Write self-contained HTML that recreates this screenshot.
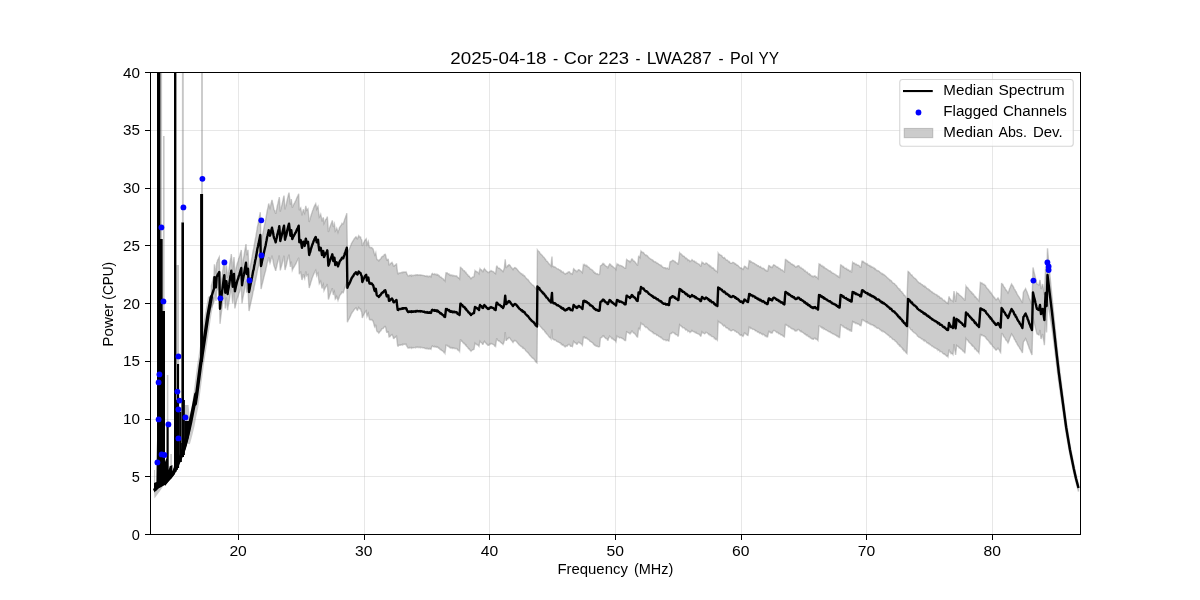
<!DOCTYPE html>
<html><head><meta charset="utf-8"><title>spectrum</title>
<style>html,body{margin:0;padding:0;background:#fff;}body{width:1200px;height:600px;overflow:hidden;font-family:"Liberation Sans",sans-serif;}svg{display:block;will-change:transform;}text{font-family:"Liberation Sans",sans-serif;fill:#000;}</style>
</head><body>
<svg width="1200" height="600" viewBox="0 0 1200 600">
<rect x="0" y="0" width="1200" height="600" fill="#ffffff"/>
<defs><clipPath id="ax"><rect x="150" y="72" width="930" height="462"/></clipPath></defs>
<g stroke="#b0b0b0" stroke-opacity="0.3" stroke-width="1" shape-rendering="crispEdges"><line x1="238.5" y1="72" x2="238.5" y2="534"/><line x1="364.5" y1="72" x2="364.5" y2="534"/><line x1="489.5" y1="72" x2="489.5" y2="534"/><line x1="615.5" y1="72" x2="615.5" y2="534"/><line x1="741.5" y1="72" x2="741.5" y2="534"/><line x1="866.5" y1="72" x2="866.5" y2="534"/><line x1="992.5" y1="72" x2="992.5" y2="534"/><line x1="150" y1="534.5" x2="1080" y2="534.5"/><line x1="150" y1="476.5" x2="1080" y2="476.5"/><line x1="150" y1="419.5" x2="1080" y2="419.5"/><line x1="150" y1="361.5" x2="1080" y2="361.5"/><line x1="150" y1="303.5" x2="1080" y2="303.5"/><line x1="150" y1="245.5" x2="1080" y2="245.5"/><line x1="150" y1="188.5" x2="1080" y2="188.5"/><line x1="150" y1="130.5" x2="1080" y2="130.5"/><line x1="150" y1="72.5" x2="1080" y2="72.5"/></g>
<g clip-path="url(#ax)">
<polygon points="211.3,285.9 214.0,275.8 214.4,264.3 214.9,267.2 215.5,270.1 216.0,273.6 216.7,262.7 217.2,261.7 217.7,259.9 218.3,259.2 218.8,257.9 219.3,257.0 220.0,293.6 220.5,288.8 221.0,285.0 221.5,280.7 222.1,276.0 222.6,272.2 223.2,267.6 223.7,263.4 224.3,259.6 224.8,268.2 225.3,276.9 225.9,271.4 226.4,265.3 227.0,271.2 227.6,277.9 228.1,274.2 228.7,271.2 229.2,268.1 229.7,264.3 230.2,260.8 230.8,257.9 231.3,254.1 232.0,261.5 232.7,269.9 233.3,263.8 234.0,257.0 234.9,274.2 235.5,271.2 236.1,268.3 236.7,265.9 237.2,263.8 237.7,262.2 238.2,261.0 238.7,258.5 239.3,257.2 239.8,255.5 240.3,253.4 240.8,251.8 241.3,250.0 242.0,267.2 242.5,263.9 243.0,261.0 243.5,258.3 244.0,255.8 244.5,252.7 245.0,249.7 245.5,247.1 246.0,244.1 246.7,255.3 247.3,252.5 248.0,249.8 248.5,261.2 249.0,273.0 249.5,270.5 250.0,267.7 250.6,264.5 251.1,262.1 251.6,259.3 252.1,256.9 252.6,254.0 253.1,250.8 253.7,248.8 254.2,245.2 254.7,242.8 255.2,239.6 255.8,236.9 256.4,233.2 256.9,230.5 257.4,226.9 258.0,224.3 258.6,221.5 259.1,218.5 259.7,215.3 260.3,212.2 261.0,243.0 261.5,240.8 262.0,237.7 262.5,235.6 263.0,233.0 263.5,230.4 264.0,227.7 264.5,225.2 265.0,222.9 265.6,220.2 266.1,217.0 266.6,214.5 267.1,211.2 267.6,209.1 268.2,206.3 268.7,203.5 269.4,206.3 270.0,208.2 270.5,206.4 271.0,203.8 271.5,201.8 272.0,199.8 272.5,202.4 273.0,204.2 273.5,207.0 274.0,209.5 274.6,210.6 275.1,211.9 275.7,213.8 276.2,210.9 276.7,209.3 277.2,206.2 277.8,204.0 278.3,201.7 278.8,199.8 279.3,197.1 279.8,203.9 280.3,211.6 280.8,209.3 281.4,207.1 281.9,205.1 282.4,202.8 282.9,200.6 283.5,197.7 284.0,195.6 284.5,202.4 285.0,209.4 285.5,207.2 286.0,205.6 286.5,203.6 287.0,200.7 287.5,198.7 288.0,196.6 288.5,194.5 289.0,192.7 289.7,198.6 290.4,204.6 291.3,199.1 291.8,203.5 292.3,207.7 292.8,206.4 293.3,205.1 293.8,204.4 294.3,203.3 294.8,202.5 295.3,201.4 295.9,200.5 296.4,199.0 297.0,197.6 297.6,196.4 298.1,195.2 298.7,193.7 299.3,210.3 300.0,208.6 300.7,207.8 301.4,212.0 302.0,215.4 302.6,212.6 303.3,209.3 304.0,211.7 304.7,213.3 305.2,209.9 305.8,205.9 306.7,210.2 307.4,209.4 308.0,208.8 308.6,215.3 309.2,222.0 309.7,220.0 310.2,218.9 310.7,216.7 311.2,215.0 311.7,213.5 312.2,211.9 312.7,210.6 313.2,209.3 313.7,207.8 314.2,206.6 314.7,205.7 315.2,204.5 315.7,203.7 316.2,206.2 316.7,209.0 317.4,207.2 318.0,206.3 318.6,212.0 319.3,216.9 320.0,215.7 320.7,214.2 321.4,217.5 322.0,221.5 322.6,219.2 323.3,217.4 324.0,223.4 324.6,222.1 325.1,221.0 325.6,219.6 326.2,219.2 326.8,218.2 327.3,216.6 327.9,224.2 328.4,231.9 329.0,230.3 329.5,228.2 330.1,226.6 330.6,225.2 331.2,223.4 331.7,222.4 332.3,220.4 332.8,223.4 333.3,227.0 333.9,224.9 334.4,223.7 335.3,231.0 336.0,230.0 336.7,228.2 337.4,230.2 338.0,232.2 338.5,230.5 339.0,229.5 339.5,227.6 340.0,226.8 340.5,226.0 341.0,225.6 341.5,224.6 342.0,223.4 342.6,223.9 343.3,223.9 343.8,222.2 344.3,220.7 344.8,219.0 345.3,218.1 345.8,216.3 346.3,215.0 346.8,213.2 347.4,253.2 347.9,251.7 348.4,250.4 348.9,249.8 349.4,248.7 350.0,247.3 350.5,246.1 351.0,244.8 351.5,243.3 352.0,242.8 352.5,241.6 353.0,241.1 353.5,240.2 354.0,239.2 354.5,238.5 355.0,238.0 355.5,237.2 356.0,236.8 356.5,237.6 357.0,238.6 357.5,238.8 358.1,237.2 358.7,235.7 359.3,236.5 359.9,237.0 360.5,237.0 361.1,239.0 361.7,240.0 362.3,246.0 362.8,244.7 363.3,243.5 363.8,242.3 364.3,241.5 364.9,240.3 365.6,239.4 366.2,238.8 367.0,244.5 367.6,243.1 368.3,241.5 368.9,244.9 369.5,247.5 370.1,247.8 370.6,247.4 371.2,247.6 371.8,247.5 372.3,248.5 372.8,248.6 373.3,249.8 373.8,251.7 374.3,253.6 374.8,255.0 375.3,254.1 375.8,252.8 376.7,258.8 377.2,259.6 377.8,259.8 378.3,260.1 378.8,260.9 379.3,260.5 379.9,259.3 380.4,259.0 381.0,258.5 381.5,257.2 382.0,256.7 382.6,256.3 383.1,256.4 383.7,255.7 384.2,254.8 384.8,254.3 385.3,254.2 385.8,255.9 386.3,258.6 386.8,260.2 387.3,260.3 387.8,259.3 388.3,259.4 389.0,264.7 389.5,264.7 390.0,264.4 390.5,263.7 391.0,263.0 391.5,262.8 392.0,262.4 392.5,263.3 393.0,264.5 393.5,266.2 394.0,266.3 394.5,265.6 395.0,265.1 395.5,265.1 396.0,264.2 396.5,263.9 397.1,269.2 397.7,273.7 398.2,273.9 398.7,273.1 399.2,273.0 399.7,272.9 400.2,272.7 400.8,273.0 401.3,272.5 401.8,272.5 402.3,272.1 402.8,272.7 403.3,272.2 403.8,272.0 404.4,272.0 404.9,272.1 405.5,272.3 406.0,271.9 406.5,272.8 407.0,274.3 407.5,274.9 408.0,275.9 408.5,275.9 409.0,275.8 409.5,275.3 410.0,275.6 410.5,275.3 411.0,275.1 411.5,275.9 412.0,275.2 412.5,275.5 413.0,275.7 413.5,275.4 414.0,275.2 414.5,275.3 415.0,275.3 415.5,275.5 416.0,274.8 416.5,275.2 417.0,274.8 417.5,274.8 418.0,275.3 418.5,275.0 419.0,275.0 419.5,275.1 420.0,274.8 420.5,275.3 421.0,275.0 421.5,275.2 422.0,275.2 422.5,275.3 423.0,275.6 423.5,275.4 424.0,275.6 424.5,275.6 425.0,276.2 425.5,276.0 426.0,276.3 426.5,276.4 427.0,275.8 427.5,276.2 428.0,276.7 428.5,276.7 429.0,276.1 429.5,276.2 430.0,276.6 430.5,276.3 431.0,276.8 431.5,275.0 432.0,273.8 432.5,273.5 433.0,274.1 433.5,274.3 434.0,274.5 434.5,273.9 435.0,274.5 435.5,274.5 436.0,274.1 436.5,274.9 437.0,275.1 437.5,274.4 438.0,274.8 438.5,275.7 439.0,275.5 439.5,276.0 440.0,277.0 440.5,277.2 441.0,277.0 441.5,277.7 442.0,278.2 442.5,278.5 443.0,278.7 443.5,279.3 444.0,280.1 444.5,279.9 445.0,280.8 445.5,276.8 446.0,272.8 446.5,272.9 447.0,272.8 447.5,273.3 448.0,273.9 448.5,274.0 449.0,273.8 449.5,275.0 450.0,275.0 450.5,275.5 451.0,274.8 451.5,275.3 452.0,275.7 452.5,275.3 453.0,276.0 453.5,275.5 454.0,275.4 454.5,275.7 455.0,276.1 455.5,276.0 456.0,275.7 456.5,275.9 457.0,276.2 457.5,277.4 458.1,277.5 458.6,278.1 459.1,277.9 459.6,278.7 460.4,267.3 460.9,267.4 461.4,268.5 461.9,268.7 462.4,268.8 463.0,270.2 463.5,270.4 464.0,271.0 464.5,270.8 465.0,271.7 465.5,272.6 466.0,272.4 466.5,273.8 467.0,274.0 467.5,274.5 468.0,275.2 468.5,276.2 469.0,276.1 469.5,276.6 470.0,277.5 470.5,277.8 471.0,278.7 471.5,278.0 472.0,277.7 472.5,277.2 473.0,277.0 473.5,276.8 474.0,276.7 474.5,273.5 475.0,270.7 475.5,271.3 476.0,271.2 476.5,271.8 477.0,271.8 477.5,272.4 478.0,272.4 478.5,273.0 479.0,273.7 479.5,270.7 480.0,268.7 480.5,269.4 481.0,269.7 481.5,269.8 482.0,270.6 482.5,271.6 483.0,271.7 483.7,269.8 484.4,268.6 484.9,269.5 485.4,269.7 485.9,270.4 486.5,271.3 487.0,271.4 487.5,272.1 488.0,272.6 488.5,272.5 489.0,272.5 489.5,271.5 490.0,271.6 490.5,271.2 491.0,270.6 491.5,271.1 492.0,271.2 492.5,271.5 493.0,271.5 493.6,271.9 494.1,272.2 494.6,273.2 495.1,273.0 495.6,273.6 496.1,269.6 496.6,266.2 497.1,266.2 497.7,267.5 498.2,267.9 498.7,268.2 499.3,268.2 499.8,268.6 500.3,269.1 500.9,269.8 501.4,269.9 501.9,270.6 502.5,270.9 503.0,271.6 503.7,270.1 504.4,267.6 505.2,259.2 506.0,267.6 506.5,267.6 507.0,266.6 507.5,265.8 508.0,266.0 508.5,264.9 509.0,264.6 509.5,265.1 510.0,265.3 510.5,266.3 511.0,267.0 511.5,267.7 512.0,268.0 512.5,268.9 513.0,269.6 513.5,268.6 514.0,268.3 514.5,267.7 515.0,267.6 515.5,268.0 516.0,268.1 516.5,268.6 517.0,269.4 517.5,269.8 518.0,270.6 518.5,271.1 519.0,271.8 519.5,272.2 520.0,272.5 520.5,273.2 521.0,273.7 521.5,273.6 522.0,274.0 522.5,275.0 523.0,274.6 523.5,275.6 524.0,275.9 524.5,275.7 525.0,276.5 525.5,277.4 526.0,278.0 526.5,278.3 527.0,279.0 527.5,279.6 528.0,279.5 528.5,280.5 529.0,281.0 529.5,281.9 530.0,282.4 530.5,283.0 531.0,283.3 531.5,284.2 532.0,284.5 532.5,285.1 533.0,285.2 533.5,285.5 534.0,286.2 534.5,287.0 535.0,287.3 535.5,288.6 536.0,288.8 536.5,289.5 537.0,289.9 537.4,249.9 537.9,250.6 538.4,251.3 538.9,251.7 539.4,251.8 539.9,253.2 540.4,253.7 540.9,254.1 541.4,254.7 541.9,255.4 542.4,255.4 542.9,256.7 543.4,256.8 543.9,257.2 544.5,258.0 545.0,259.1 545.5,259.1 546.0,260.3 546.5,261.1 547.0,261.2 547.5,261.7 548.0,262.4 548.5,263.2 549.0,263.9 549.5,264.3 550.0,264.9 550.5,265.0 551.0,266.0 551.5,260.9 552.0,256.6 552.4,266.0 552.9,266.0 553.4,266.8 553.9,266.6 554.4,267.2 554.9,266.9 555.4,267.2 556.0,267.7 556.5,268.4 557.0,268.7 557.5,268.9 558.0,268.8 558.5,269.3 559.0,269.6 559.5,269.9 560.0,270.3 560.5,270.2 561.0,271.4 561.5,271.0 562.0,272.1 562.6,272.4 563.1,271.9 563.6,272.6 564.1,273.3 564.6,273.8 565.1,273.6 565.6,274.0 566.2,273.4 566.7,273.0 567.3,273.3 567.9,272.2 568.4,272.1 569.0,271.7 569.5,271.8 570.0,272.7 570.5,273.6 571.0,273.7 571.7,273.5 572.4,274.1 573.0,271.7 573.6,268.7 574.2,269.2 574.7,270.1 575.3,270.4 575.9,270.4 576.4,271.6 577.0,271.7 577.5,271.2 578.0,270.2 578.5,269.7 579.0,269.7 579.6,270.2 580.1,270.7 580.7,271.0 581.3,271.4 581.8,272.1 582.4,272.7 582.9,268.5 583.4,264.7 583.9,265.2 584.4,264.5 584.9,265.4 585.5,265.6 586.0,265.1 586.5,266.0 587.0,265.7 587.5,266.4 588.0,267.0 588.5,266.9 589.0,267.4 589.5,267.9 590.0,268.9 590.5,269.0 591.0,269.2 591.5,269.7 592.0,270.0 592.5,270.2 593.0,270.7 593.5,271.9 594.0,271.8 594.5,272.9 595.0,272.6 595.5,273.1 596.0,273.8 596.5,273.9 597.0,273.6 597.5,273.8 598.1,274.5 598.6,274.5 599.1,274.5 599.6,274.2 600.4,265.8 600.9,265.5 601.4,265.3 602.0,264.8 602.5,263.9 603.0,263.4 603.5,264.1 604.0,263.9 604.5,265.0 605.0,265.1 605.5,265.9 606.0,266.2 606.5,266.3 607.0,266.5 607.5,267.8 608.0,267.8 608.5,266.1 609.1,265.2 609.6,263.9 610.1,264.2 610.7,264.6 611.2,265.5 611.7,266.2 612.3,266.0 612.8,266.8 613.3,266.9 613.9,267.7 614.4,268.0 614.9,268.2 615.5,268.7 616.0,269.5 616.5,266.4 617.0,263.9 617.5,264.6 618.0,264.4 618.5,264.4 619.0,265.3 619.5,265.7 620.0,265.4 620.5,265.4 621.0,265.7 621.6,265.8 622.1,266.3 622.6,266.4 623.1,266.8 623.6,267.0 624.1,267.6 624.6,268.2 625.1,268.3 625.6,268.3 626.1,263.8 626.6,259.5 627.2,259.9 627.7,260.4 628.3,260.6 628.9,261.0 629.4,261.1 630.0,262.0 630.5,261.0 631.0,260.9 631.5,259.3 632.0,259.0 632.5,259.5 633.0,260.2 633.5,261.0 634.0,260.9 634.5,261.5 635.1,262.0 635.6,262.7 636.1,263.3 636.6,264.3 637.1,264.8 637.6,265.0 638.1,261.1 638.6,256.4 639.3,256.5 640.0,257.6 640.5,253.8 641.0,251.0 641.5,251.6 642.0,252.2 642.5,252.2 643.0,252.7 643.5,252.5 644.0,253.3 644.5,254.3 645.0,254.6 645.5,255.0 646.0,255.6 646.5,255.2 647.0,255.5 647.5,256.0 648.0,256.7 648.5,257.3 649.0,258.0 649.5,258.2 650.0,258.5 650.5,259.0 651.0,259.1 651.5,259.6 652.0,260.0 652.5,259.9 653.0,260.9 653.5,260.7 654.0,261.7 654.5,261.7 655.0,261.7 655.5,261.8 656.0,262.3 656.5,263.0 657.0,263.4 657.5,263.1 658.0,263.4 658.5,264.1 659.0,264.5 659.5,264.6 660.0,264.8 660.5,265.5 661.0,265.2 661.5,265.8 662.0,266.3 662.5,267.1 663.0,267.1 663.5,267.7 664.0,267.6 664.5,267.7 665.0,267.6 665.5,267.8 666.0,268.6 666.5,268.5 667.0,268.2 667.5,268.1 668.0,268.7 668.5,269.0 669.0,269.0 669.5,265.4 670.0,262.0 670.5,261.5 671.0,261.6 671.5,261.6 672.0,260.7 672.5,260.2 673.0,260.4 673.5,260.6 674.1,261.0 674.6,261.7 675.2,261.5 675.7,262.5 676.2,262.8 676.8,262.9 677.3,263.0 677.9,264.1 678.4,264.0 679.0,258.3 679.6,253.0 680.1,253.7 680.6,253.6 681.2,254.0 681.7,254.9 682.2,254.9 682.7,256.0 683.2,256.0 683.8,256.1 684.3,256.5 684.8,257.2 685.3,257.8 685.8,258.5 686.4,258.2 686.9,258.8 687.4,259.1 687.9,260.3 688.4,259.9 689.0,260.2 689.5,260.6 690.0,261.5 690.5,260.9 691.0,260.9 691.5,260.5 692.0,259.6 692.5,260.2 693.0,260.8 693.5,261.1 694.0,260.9 694.5,261.1 695.0,262.2 695.5,262.4 696.0,262.0 696.5,263.0 697.0,263.1 697.5,263.4 698.0,263.7 698.5,263.9 699.0,264.1 699.5,264.8 700.0,265.2 700.5,266.1 701.0,266.1 701.5,263.7 702.0,262.1 702.6,263.1 703.2,262.9 703.8,263.5 704.4,264.2 704.9,264.1 705.5,263.7 706.0,262.9 706.5,263.2 707.0,263.3 707.6,264.1 708.1,264.4 708.6,265.4 709.1,265.0 709.6,265.6 710.1,266.6 710.7,266.1 711.2,266.9 711.7,267.7 712.2,268.1 712.7,267.7 713.3,268.1 713.8,268.6 714.3,269.8 714.8,269.6 715.3,270.5 715.8,271.0 716.4,270.9 716.9,271.2 717.4,271.9 718.2,253.3 718.7,254.2 719.2,254.2 719.7,254.3 720.2,255.2 720.8,255.2 721.3,255.5 721.8,255.6 722.3,256.8 722.8,257.3 723.3,257.5 723.8,258.2 724.3,257.6 724.9,258.2 725.4,258.9 725.9,259.8 726.4,260.1 726.9,260.0 727.4,260.2 727.9,260.8 728.4,261.3 729.0,262.1 729.5,261.7 730.0,262.8 730.5,263.1 731.0,263.3 731.5,263.3 732.0,263.0 732.5,262.6 733.0,262.3 733.5,262.5 734.0,262.8 734.5,263.2 735.0,264.0 735.5,263.7 736.0,264.2 736.5,265.1 737.0,264.9 737.5,265.1 738.0,265.4 738.5,266.3 739.0,266.5 739.5,267.5 740.0,267.7 740.5,268.2 741.0,267.8 741.5,268.0 742.0,268.4 742.5,269.2 743.0,269.5 743.7,268.1 744.4,266.2 744.9,266.5 745.4,266.6 745.9,267.1 746.5,267.7 747.0,268.1 747.5,268.5 748.0,268.6 748.6,265.0 749.2,260.7 749.7,261.1 750.2,260.9 750.7,261.9 751.2,261.6 751.8,262.2 752.3,262.3 752.8,262.9 753.3,262.7 753.8,263.0 754.3,263.3 754.8,263.5 755.3,264.5 755.8,264.5 756.4,264.6 756.9,264.9 757.4,265.8 757.9,265.6 758.4,265.6 758.9,266.5 759.4,266.6 759.9,267.2 760.4,266.6 761.0,267.3 761.5,267.9 762.0,268.3 762.5,268.6 763.0,268.0 763.5,268.6 764.0,268.7 764.5,269.1 765.0,270.1 765.6,270.0 766.1,270.7 766.6,270.4 767.1,271.2 767.6,271.1 768.2,268.3 768.8,265.5 769.3,265.6 769.9,266.5 770.4,267.0 770.9,266.5 771.5,267.4 772.0,267.6 772.5,266.8 773.1,265.5 773.6,264.8 774.1,265.0 774.6,265.1 775.1,265.5 775.7,265.9 776.2,266.6 776.7,267.0 777.2,266.9 777.7,267.0 778.2,267.7 778.7,268.4 779.3,268.2 779.8,268.7 780.3,268.9 780.8,269.8 781.3,269.9 781.8,269.8 782.3,270.1 782.9,270.8 783.4,271.3 783.9,271.7 784.4,271.9 784.9,265.3 785.4,259.5 785.9,259.5 786.4,260.4 786.9,260.5 787.4,260.7 787.9,261.1 788.4,262.1 788.9,261.8 789.4,262.4 789.9,262.6 790.4,263.0 791.0,263.8 791.5,264.3 792.0,264.0 792.5,264.2 793.0,265.1 793.5,264.9 794.0,265.1 794.5,266.3 795.0,266.2 795.5,267.0 796.0,267.0 796.5,266.6 797.0,266.7 797.5,266.0 798.0,265.7 798.5,265.7 799.0,265.9 799.5,266.9 800.0,267.3 800.5,267.9 801.0,267.5 801.5,268.4 802.0,268.5 802.5,269.0 803.0,269.0 803.5,269.5 804.0,270.1 804.5,270.9 805.0,270.5 805.5,271.2 806.0,271.9 806.5,272.4 807.0,272.0 807.5,272.3 808.0,273.5 808.5,273.9 809.0,273.8 809.5,273.7 810.0,275.0 810.5,274.8 811.0,275.7 811.5,275.8 812.0,276.4 812.5,276.1 813.0,276.8 813.5,276.8 814.0,276.0 814.5,276.0 815.0,275.9 815.5,276.7 816.0,277.1 816.5,276.9 817.0,277.4 817.5,278.0 818.0,278.6 818.5,271.3 819.0,264.0 819.5,264.3 820.0,264.3 820.5,264.8 821.0,265.6 821.5,266.1 822.0,265.6 822.5,266.4 823.0,266.9 823.5,266.6 824.0,267.7 824.5,267.3 825.0,268.1 825.5,268.4 826.0,268.8 826.5,268.8 827.0,269.2 827.5,269.7 828.0,269.9 828.5,270.5 829.0,270.6 829.6,270.9 830.1,270.8 830.6,271.8 831.1,272.0 831.6,272.0 832.1,272.9 832.6,273.2 833.1,273.2 833.6,273.3 834.1,273.9 834.6,273.9 835.1,274.2 835.6,274.9 836.1,274.9 836.6,275.5 837.1,275.9 837.6,275.8 838.1,276.7 838.6,276.5 839.1,277.5 839.6,277.6 840.1,271.6 840.6,265.0 841.1,265.3 841.6,265.2 842.1,266.0 842.6,266.2 843.1,267.1 843.6,266.6 844.1,267.6 844.6,268.0 845.1,268.1 845.6,268.5 846.1,268.2 846.6,269.3 847.1,269.1 847.6,269.9 848.1,270.2 848.6,269.8 849.1,270.7 849.6,271.2 850.1,270.6 850.6,271.2 851.1,271.9 851.6,272.0 852.1,266.9 852.6,262.4 853.1,263.1 853.6,262.8 854.2,263.6 854.7,263.2 855.2,263.9 855.8,264.6 856.3,264.2 856.8,264.5 857.3,265.1 857.9,265.2 858.4,265.2 858.9,265.6 859.4,265.9 860.0,267.0 860.5,267.0 861.0,267.1 861.5,264.5 862.0,261.1 862.5,261.1 863.0,262.0 863.5,261.6 864.0,262.3 864.5,262.7 865.0,262.7 865.5,263.5 866.0,263.5 866.5,263.8 867.0,264.4 867.5,263.9 868.0,265.1 868.5,265.1 869.0,265.1 869.5,265.8 870.0,265.6 870.5,266.6 871.0,266.5 871.5,266.5 872.0,267.2 872.5,267.2 873.0,267.2 873.5,268.1 874.0,268.1 874.5,268.0 875.0,269.2 875.5,268.9 876.0,269.7 876.5,270.4 877.0,270.3 877.5,270.7 878.0,270.7 878.5,270.8 879.0,271.2 879.5,271.6 880.0,272.4 880.5,272.6 881.0,273.0 881.5,273.8 882.0,273.4 882.5,273.8 883.0,274.6 883.5,274.3 884.0,274.6 884.5,275.3 885.0,275.4 885.5,276.0 886.0,276.5 886.5,276.7 887.0,277.5 887.5,277.9 888.0,278.0 888.5,278.9 889.0,279.2 889.5,279.3 890.0,280.5 890.5,280.3 891.0,280.6 891.5,281.0 892.0,282.0 892.5,282.6 893.0,283.0 893.5,283.1 894.0,283.4 894.5,283.6 895.0,284.6 895.5,285.0 896.0,285.4 896.5,285.8 897.0,286.7 897.5,287.1 898.0,288.1 898.5,288.5 899.0,288.6 899.5,289.9 900.0,289.6 900.5,290.7 901.0,291.2 901.5,291.6 902.0,292.0 902.5,293.3 903.0,293.2 903.5,294.3 904.0,295.3 904.5,295.1 905.0,295.7 905.5,296.7 906.0,297.2 906.5,298.0 907.0,298.4 907.5,285.3 908.0,271.5 908.5,271.7 909.0,272.3 909.5,272.8 910.0,273.1 910.5,274.4 911.0,274.8 911.5,275.3 912.0,275.1 912.5,276.4 913.0,276.8 913.5,277.1 914.0,277.9 914.5,278.1 915.0,278.4 915.5,278.8 916.0,279.4 916.5,279.7 917.0,280.5 917.5,281.4 918.0,281.7 918.5,282.3 919.0,282.8 919.5,283.0 920.0,282.9 920.5,283.6 921.0,283.8 921.5,284.5 922.0,284.6 922.5,284.7 923.0,285.5 923.5,286.1 924.0,285.8 924.5,286.8 925.0,286.3 925.5,286.9 926.0,287.2 926.5,288.1 927.0,288.6 927.5,288.8 928.0,288.7 928.5,289.7 929.0,289.5 929.5,289.7 930.0,290.8 930.5,290.8 931.0,291.3 931.5,291.6 932.0,292.3 932.5,292.1 933.0,292.9 933.5,293.1 934.0,293.6 934.5,293.5 935.0,294.2 935.5,294.4 936.0,294.5 936.5,294.8 937.0,295.5 937.5,295.3 938.0,296.5 938.5,296.1 939.0,296.4 939.5,296.8 940.0,298.0 940.5,297.8 941.0,297.9 941.5,298.2 942.0,298.5 942.5,299.6 943.0,299.9 943.5,300.3 944.0,300.7 944.5,300.4 945.0,301.3 945.5,301.4 946.0,302.2 946.5,302.6 947.0,303.0 947.5,302.5 948.0,303.3 948.5,300.2 949.0,296.4 949.5,297.8 950.0,298.8 950.5,299.0 951.0,300.4 951.5,300.4 952.0,300.5 952.5,300.7 953.0,301.4 953.5,296.6 954.0,291.1 954.5,295.0 955.1,298.4 955.6,301.9 956.1,297.5 956.6,292.5 957.1,293.1 957.6,293.2 958.2,293.5 958.7,294.0 959.2,295.1 959.8,295.1 960.3,295.6 960.8,296.2 961.3,296.3 961.9,297.0 962.4,297.5 962.9,298.4 963.4,298.5 964.0,299.0 964.5,300.1 965.0,300.1 965.5,293.1 966.0,286.1 966.5,287.0 967.0,287.4 967.5,287.4 968.0,288.3 968.5,288.9 969.0,289.8 969.5,290.0 970.0,290.9 970.5,291.3 971.0,291.5 971.5,292.8 972.0,292.6 972.5,293.9 973.0,293.8 973.5,294.2 974.0,295.0 974.5,296.1 975.0,296.9 975.5,296.5 976.0,297.5 976.5,298.1 977.0,299.0 977.5,298.9 978.0,299.8 978.5,300.3 979.0,301.0 979.7,292.0 980.4,282.4 980.9,282.5 981.4,283.5 981.9,283.1 982.4,283.4 983.0,284.2 983.5,284.3 984.0,284.2 984.5,285.1 985.0,285.2 985.5,285.5 986.0,286.9 986.5,287.4 987.0,288.2 987.5,288.7 988.0,289.1 988.5,289.8 989.0,290.4 989.5,291.6 990.0,291.4 990.5,292.9 991.0,292.7 991.5,293.6 992.0,294.3 992.5,295.6 993.0,295.8 993.5,296.4 994.0,297.5 994.5,297.5 995.0,298.4 995.5,299.2 996.0,299.8 996.5,299.6 997.0,299.1 997.5,298.5 998.0,297.9 998.5,298.7 999.0,299.6 999.6,300.4 1000.1,302.0 1000.6,302.6 1001.1,293.0 1001.6,283.0 1002.1,284.1 1002.7,284.3 1003.2,285.4 1003.7,286.6 1004.3,287.2 1004.8,287.6 1005.3,288.8 1005.9,290.1 1006.4,290.2 1006.9,291.0 1007.5,292.0 1008.0,293.0 1008.5,291.9 1009.0,290.8 1009.5,288.8 1010.1,287.5 1010.6,286.3 1011.1,285.1 1011.6,284.0 1012.1,284.9 1012.6,285.5 1013.1,286.5 1013.7,287.3 1014.2,289.0 1014.7,289.7 1015.2,289.9 1015.7,291.7 1016.2,291.7 1016.7,292.9 1017.3,294.4 1017.8,295.2 1018.3,296.0 1018.8,296.6 1019.3,297.3 1019.8,298.6 1020.3,299.0 1020.9,300.0 1021.4,301.1 1021.9,301.6 1022.4,303.0 1022.9,297.4 1023.4,292.0 1023.9,291.4 1024.5,290.5 1025.0,289.5 1025.6,288.6 1026.1,290.1 1026.7,291.3 1027.2,292.3 1027.7,294.2 1028.3,295.3 1028.8,297.0 1029.3,298.6 1029.9,299.5 1030.4,301.0 1030.9,302.5 1031.5,303.6 1032.0,305.0 1032.5,285.9 1033.0,267.4 1033.5,269.7 1034.0,271.9 1034.5,273.9 1035.0,275.9 1035.5,278.1 1036.0,280.0 1036.5,282.1 1037.0,284.0 1037.5,284.2 1038.0,284.3 1038.5,284.9 1039.0,285.0 1039.5,282.1 1040.0,280.0 1040.5,284.4 1041.0,289.0 1041.5,287.6 1042.1,285.9 1042.6,284.0 1043.2,287.8 1043.8,291.1 1044.4,294.8 1045.0,280.8 1045.6,267.1 1046.1,273.2 1046.6,279.5 1047.5,248.3 1049.5,270.7 1052.0,296.5 1054.1,317.8 1056.2,338.3 1058.8,362.6 1062.5,392.0 1066.2,421.0 1070.0,445.0 1073.8,464.4 1076.0,474.6 1078.5,484.5 1078.5,491.5 1076.0,482.4 1073.8,473.1 1070.0,455.0 1066.2,434.0 1062.5,408.0 1058.8,382.4 1056.2,361.7 1054.1,344.2 1052.0,328.5 1049.5,312.7 1047.5,301.7 1046.6,332.5 1046.1,325.7 1045.6,318.9 1045.0,332.0 1044.4,345.2 1043.8,341.1 1043.2,337.8 1042.6,334.0 1042.1,335.9 1041.5,337.6 1041.0,339.0 1040.5,334.4 1040.0,330.0 1039.5,332.1 1039.0,335.0 1038.5,334.9 1038.0,334.3 1037.5,334.2 1037.0,334.0 1036.5,332.1 1036.0,330.0 1035.5,328.1 1035.0,325.9 1034.5,323.9 1034.0,321.9 1033.5,319.7 1033.0,317.4 1032.5,335.9 1032.0,355.0 1031.5,353.6 1030.9,352.5 1030.4,351.0 1029.9,349.5 1029.3,348.6 1028.8,347.0 1028.3,345.3 1027.7,344.2 1027.2,342.3 1026.7,341.3 1026.1,340.1 1025.6,338.6 1025.0,339.5 1024.5,340.5 1023.9,341.4 1023.4,342.0 1022.9,347.4 1022.4,353.0 1021.9,351.6 1021.4,351.1 1020.9,350.0 1020.3,349.0 1019.8,348.6 1019.3,347.3 1018.8,346.6 1018.3,346.0 1017.8,345.2 1017.3,344.4 1016.7,342.9 1016.2,341.7 1015.7,341.7 1015.2,339.9 1014.7,339.7 1014.2,339.0 1013.7,337.3 1013.1,336.5 1012.6,335.5 1012.1,334.9 1011.6,334.0 1011.1,335.1 1010.6,336.3 1010.1,337.5 1009.5,338.8 1009.0,340.8 1008.5,341.9 1008.0,343.0 1007.5,342.0 1006.9,341.0 1006.4,340.2 1005.9,340.1 1005.3,338.8 1004.8,337.6 1004.3,337.2 1003.7,336.6 1003.2,335.4 1002.7,334.3 1002.1,334.1 1001.6,333.0 1001.1,343.0 1000.6,352.6 1000.1,352.0 999.6,350.4 999.0,349.7 998.5,348.8 998.0,348.1 997.5,348.8 997.0,349.4 996.5,349.9 996.0,350.2 995.5,349.6 995.0,348.9 994.5,348.1 994.0,348.1 993.5,347.0 993.0,346.5 992.5,346.3 992.0,345.1 991.5,344.4 991.0,343.6 990.5,343.9 990.0,342.4 989.5,342.6 989.0,341.5 988.5,340.9 988.0,340.3 987.5,339.9 987.0,339.5 986.5,338.8 986.0,338.3 985.5,336.9 985.0,336.8 984.5,336.6 984.0,335.8 983.5,336.0 983.0,335.9 982.4,335.1 981.9,335.0 981.4,335.4 980.9,334.4 980.4,334.4 979.7,344.0 979.0,353.0 978.5,352.3 978.0,351.9 977.5,351.1 977.0,351.1 976.5,350.3 976.0,349.7 975.5,348.7 975.0,349.1 974.5,348.3 974.0,347.2 973.5,346.5 973.0,346.1 972.5,346.2 972.0,344.9 971.5,345.1 971.0,343.9 970.5,343.7 970.0,343.3 969.5,342.4 969.0,342.3 968.5,341.4 968.0,340.8 967.5,339.9 967.0,339.9 966.5,339.6 966.0,338.7 965.5,345.7 965.0,352.7 964.5,352.7 964.0,351.6 963.4,351.2 962.9,351.1 962.4,350.2 961.9,349.8 961.3,349.1 960.8,349.0 960.3,348.5 959.8,347.9 959.2,348.0 958.7,346.9 958.2,346.4 957.6,346.2 957.1,346.1 956.6,345.5 956.1,350.5 955.6,354.9 955.1,351.5 954.5,348.0 954.0,344.1 953.5,349.7 953.0,354.6 952.5,353.9 952.0,353.7 951.5,353.5 951.0,353.6 950.5,352.2 950.0,352.1 949.5,351.0 949.0,349.6 948.5,353.5 948.0,356.7 947.5,355.9 947.0,356.4 946.5,356.0 946.0,355.6 945.5,354.8 945.0,354.7 944.5,353.9 944.0,354.2 943.5,353.8 943.0,353.4 942.5,353.1 942.0,352.1 941.5,351.8 941.0,351.6 940.5,351.4 940.0,351.7 939.5,350.5 939.0,350.1 938.5,349.9 938.0,350.3 937.5,349.1 937.0,349.3 936.5,348.6 936.0,348.3 935.5,348.2 935.0,348.1 934.5,347.4 934.0,347.5 933.5,347.0 933.0,346.8 932.5,346.1 932.0,346.3 931.5,345.6 931.0,345.3 930.5,344.9 930.0,344.8 929.5,343.8 929.0,343.6 928.5,343.8 928.0,342.9 927.5,343.0 927.0,342.8 926.5,342.3 926.0,341.5 925.5,341.1 925.0,340.6 924.5,341.1 924.0,340.1 923.5,340.5 923.0,339.8 922.5,339.1 922.0,339.0 921.5,339.0 921.0,338.3 920.5,338.0 920.0,337.4 919.5,337.5 919.0,337.3 918.5,336.8 918.0,336.3 917.5,336.1 917.0,335.1 916.5,334.4 916.0,334.1 915.5,333.4 915.0,333.1 914.5,332.8 914.0,332.6 913.5,331.9 913.0,331.6 912.5,331.3 912.0,329.9 911.5,330.1 911.0,329.7 910.5,329.3 910.0,328.0 909.5,327.8 909.0,327.3 908.5,326.7 908.0,326.5 907.5,340.3 907.0,353.6 906.5,353.2 906.0,352.5 905.5,352.1 905.0,351.1 904.5,350.5 904.0,350.8 903.5,349.9 903.0,348.8 902.5,349.0 902.0,347.8 901.5,347.4 901.0,347.0 900.5,346.6 900.0,345.6 899.5,345.9 899.0,344.7 898.5,344.6 898.0,344.3 897.5,343.2 897.0,342.9 896.5,342.0 896.0,341.6 895.5,341.3 895.0,341.0 894.5,339.9 894.0,339.8 893.5,339.5 893.0,339.5 892.5,339.1 892.0,338.5 891.5,337.6 891.0,337.2 890.5,336.9 890.0,337.2 889.5,336.0 889.0,335.9 888.5,335.6 888.0,334.8 887.5,334.8 887.0,334.4 886.5,333.6 886.0,333.5 885.5,333.0 885.0,332.4 884.5,332.4 884.0,331.7 883.5,331.4 883.0,331.7 882.5,331.0 882.0,330.6 881.5,331.0 881.0,330.3 880.5,329.9 880.0,329.8 879.5,329.0 879.0,328.6 878.5,328.2 878.0,328.2 877.5,328.2 877.0,327.9 876.5,327.9 876.0,327.3 875.5,326.6 875.0,326.8 874.5,325.7 874.0,325.9 873.5,325.9 873.0,325.0 872.5,325.0 872.0,325.1 871.5,324.4 871.0,324.4 870.5,324.5 870.0,323.6 869.5,323.8 869.0,323.2 868.5,323.2 868.0,323.3 867.5,322.1 867.0,322.6 866.5,322.1 866.0,321.8 865.5,321.8 865.0,321.1 864.5,321.1 864.0,320.7 863.5,320.1 863.0,320.5 862.5,319.6 862.0,319.7 861.5,323.1 861.0,325.7 860.5,325.6 860.0,325.6 859.4,324.6 858.9,324.4 858.4,323.9 857.9,324.0 857.3,323.9 856.8,323.4 856.3,323.1 855.8,323.5 855.2,322.9 854.7,322.3 854.2,322.7 853.6,321.9 853.1,322.2 852.6,321.6 852.1,326.1 851.6,331.2 851.1,331.2 850.6,330.5 850.1,329.9 849.6,330.5 849.1,330.1 848.6,329.2 848.1,329.6 847.6,329.4 847.1,328.7 846.6,328.9 846.1,327.8 845.6,328.1 845.1,327.8 844.6,327.7 844.1,327.3 843.6,326.3 843.1,326.8 842.6,326.0 842.1,325.8 841.6,325.1 841.1,325.3 840.6,325.0 840.1,331.6 839.6,337.6 839.1,337.6 838.6,336.6 838.1,336.9 837.6,336.0 837.1,336.2 836.6,335.9 836.1,335.2 835.6,335.3 835.1,334.7 834.6,334.4 834.1,334.5 833.6,333.9 833.1,333.9 832.6,333.9 832.1,333.6 831.6,332.8 831.1,332.8 830.6,332.6 830.1,331.7 829.6,331.9 829.0,331.6 828.5,331.5 828.0,331.0 827.5,330.9 827.0,330.4 826.5,330.0 826.0,330.1 825.5,329.7 825.0,329.5 824.5,328.7 824.0,329.1 823.5,328.1 823.0,328.5 822.5,328.0 822.0,327.2 821.5,327.8 821.0,327.3 820.5,326.6 820.0,326.1 819.5,326.1 819.0,326.0 818.5,333.3 818.0,340.6 817.5,340.1 817.0,339.5 816.5,339.1 816.0,339.3 815.5,338.9 815.0,338.1 814.5,338.3 814.0,338.4 813.5,339.2 813.0,339.2 812.5,338.6 812.0,338.9 811.5,338.4 811.0,338.3 810.5,337.5 810.0,337.7 809.5,336.5 809.0,336.6 808.5,336.8 808.0,336.4 807.5,335.3 807.0,335.0 806.5,335.5 806.0,335.0 805.5,334.4 805.0,333.7 804.5,334.1 804.0,333.4 803.5,332.9 803.0,332.4 802.5,332.4 802.0,332.0 801.5,331.9 801.0,331.0 800.5,331.5 800.0,330.9 799.5,330.5 799.0,329.7 798.5,329.5 798.0,329.5 797.5,329.8 797.0,330.6 796.5,330.5 796.0,331.0 795.5,331.0 795.0,330.3 794.5,330.5 794.0,329.3 793.5,329.2 793.0,329.4 792.5,328.5 792.0,328.4 791.5,328.7 791.0,328.3 790.4,327.5 789.9,327.1 789.4,327.0 788.9,326.5 788.4,326.8 787.9,325.8 787.4,325.5 786.9,325.3 786.4,325.3 785.9,324.5 785.4,324.5 784.9,330.3 784.4,336.9 783.9,336.7 783.4,336.3 782.9,335.9 782.3,335.3 781.8,334.9 781.3,335.1 780.8,335.0 780.3,334.1 779.8,333.9 779.3,333.5 778.7,333.7 778.2,333.0 777.7,332.4 777.2,332.3 776.7,332.4 776.2,332.0 775.7,331.4 775.1,331.0 774.6,330.6 774.1,330.5 773.6,330.4 773.1,331.0 772.5,332.4 772.0,333.2 771.5,333.0 770.9,332.2 770.4,332.7 769.9,332.2 769.3,331.4 768.8,331.3 768.2,334.0 767.6,336.9 767.1,337.0 766.6,336.2 766.1,336.5 765.6,335.9 765.0,336.0 764.5,335.0 764.0,334.7 763.5,334.6 763.0,334.0 762.5,334.7 762.0,334.3 761.5,334.0 761.0,333.4 760.4,332.8 759.9,333.4 759.4,332.8 758.9,332.7 758.4,331.8 757.9,331.9 757.4,332.1 756.9,331.2 756.4,330.9 755.8,330.9 755.3,330.9 754.8,329.9 754.3,329.7 753.8,329.5 753.3,329.2 752.8,329.4 752.3,328.8 751.8,328.7 751.2,328.2 750.7,328.5 750.2,327.5 749.7,327.8 749.2,327.3 748.6,331.7 748.0,335.4 747.5,335.3 747.0,334.9 746.5,334.5 745.9,333.9 745.4,333.4 744.9,333.3 744.4,333.0 743.7,335.0 743.0,336.5 742.5,336.1 742.0,335.4 741.5,335.0 741.0,334.9 740.5,335.3 740.0,334.8 739.5,334.6 739.0,333.6 738.5,333.5 738.0,332.6 737.5,332.3 737.0,332.2 736.5,332.3 736.0,331.4 735.5,331.0 735.0,331.3 734.5,330.6 734.0,330.2 733.5,329.9 733.0,329.7 732.5,330.1 732.0,330.5 731.5,330.8 731.0,330.7 730.5,330.6 730.0,330.3 729.5,329.3 729.0,329.7 728.4,328.9 727.9,328.4 727.4,327.9 726.9,327.7 726.4,327.9 725.9,327.5 725.4,326.6 724.9,326.0 724.3,325.4 723.8,326.0 723.3,325.3 722.8,325.2 722.3,324.7 721.8,323.6 721.3,323.5 720.8,323.1 720.2,323.1 719.7,322.3 719.2,322.3 718.7,322.3 718.2,321.5 717.4,340.1 716.9,339.5 716.4,339.3 715.8,339.5 715.3,339.0 714.8,338.1 714.3,338.4 713.8,337.2 713.3,336.8 712.7,336.5 712.2,336.8 711.7,336.5 711.2,335.8 710.7,335.0 710.1,335.5 709.6,334.7 709.1,334.1 708.6,334.5 708.1,333.6 707.6,333.3 707.0,332.6 706.5,332.6 706.0,332.3 705.5,333.1 704.9,333.6 704.4,333.8 703.8,333.2 703.2,332.5 702.6,332.8 702.0,331.9 701.5,333.5 701.0,335.9 700.5,336.1 700.0,335.2 699.5,334.8 699.0,334.2 698.5,334.1 698.0,333.9 697.5,333.7 697.0,333.4 696.5,333.3 696.0,332.4 695.5,332.8 695.0,332.7 694.5,331.6 694.0,331.5 693.5,331.8 693.0,331.5 692.5,330.9 692.0,330.4 691.5,331.3 691.0,331.8 690.5,331.9 690.0,332.5 689.5,331.7 689.0,331.3 688.4,331.0 687.9,331.5 687.4,330.3 686.9,330.1 686.4,329.5 685.8,330.0 685.3,329.3 684.8,328.7 684.3,328.1 683.8,327.7 683.2,327.6 682.7,327.7 682.2,326.7 681.7,326.8 681.2,325.9 680.6,325.5 680.1,325.7 679.6,325.0 679.0,330.3 678.4,336.0 677.9,336.1 677.3,335.0 676.8,334.9 676.2,334.8 675.7,334.5 675.2,333.5 674.6,333.7 674.1,333.0 673.5,332.6 673.0,332.4 672.5,332.2 672.0,332.7 671.5,333.6 671.0,333.6 670.5,333.5 670.0,334.0 669.5,337.4 669.0,341.0 668.5,341.0 668.0,340.7 667.5,340.1 667.0,340.2 666.5,340.5 666.0,340.6 665.5,339.8 665.0,339.6 664.5,339.7 664.0,339.6 663.5,339.7 663.0,339.1 662.5,339.1 662.0,338.3 661.5,337.8 661.0,337.2 660.5,337.5 660.0,336.8 659.5,336.6 659.0,336.5 658.5,336.1 658.0,335.4 657.5,335.1 657.0,335.4 656.5,335.0 656.0,334.3 655.5,333.8 655.0,333.7 654.5,333.7 654.0,333.7 653.5,332.7 653.0,332.9 652.5,331.9 652.0,332.0 651.5,331.6 651.0,331.1 650.5,331.0 650.0,330.5 649.5,330.2 649.0,330.0 648.5,329.3 648.0,328.7 647.5,328.0 647.0,327.5 646.5,327.2 646.0,327.6 645.5,327.0 645.0,326.6 644.5,326.3 644.0,325.3 643.5,324.5 643.0,324.7 642.5,324.2 642.0,324.2 641.5,323.6 641.0,323.0 640.5,325.8 640.0,329.6 639.3,328.5 638.6,328.4 638.1,333.1 637.6,337.0 637.1,336.8 636.6,336.4 636.1,335.3 635.6,334.7 635.1,334.0 634.5,333.5 634.0,332.9 633.5,333.0 633.0,332.3 632.5,331.6 632.0,331.0 631.5,331.4 631.0,333.0 630.5,333.1 630.0,334.0 629.4,333.2 628.9,333.1 628.3,332.7 627.7,332.5 627.2,332.0 626.6,331.7 626.1,336.0 625.6,340.5 625.1,340.5 624.6,340.3 624.1,339.8 623.6,339.2 623.1,338.9 622.6,338.5 622.1,338.5 621.6,338.0 621.0,337.9 620.5,337.5 620.0,337.6 619.5,337.9 619.0,337.5 618.5,336.6 618.0,336.6 617.5,336.8 617.0,336.1 616.5,338.6 616.0,341.7 615.5,340.9 614.9,340.5 614.4,340.2 613.9,339.9 613.3,339.2 612.8,339.1 612.3,338.2 611.7,338.5 611.2,337.8 610.7,336.9 610.1,336.5 609.6,336.1 609.1,337.5 608.5,338.4 608.0,340.2 607.5,340.1 607.0,338.8 606.5,338.6 606.0,338.5 605.5,338.2 605.0,337.5 604.5,337.3 604.0,336.2 603.5,336.4 603.0,335.8 602.5,336.3 602.0,337.2 601.4,337.6 600.9,337.8 600.4,338.2 599.6,346.6 599.1,346.9 598.6,346.9 598.1,346.9 597.5,346.3 597.0,346.0 596.5,346.3 596.0,346.2 595.5,345.5 595.0,345.1 594.5,345.3 594.0,344.2 593.5,344.3 593.0,343.2 592.5,342.7 592.0,342.5 591.5,342.2 591.0,341.7 590.5,341.4 590.0,341.4 589.5,340.4 589.0,339.9 588.5,339.4 588.0,339.5 587.5,338.9 587.0,338.3 586.5,338.5 586.0,337.6 585.5,338.2 584.9,337.9 584.4,337.1 583.9,337.8 583.4,337.3 582.9,341.1 582.4,345.3 581.8,344.6 581.3,343.9 580.7,343.6 580.1,343.2 579.6,342.8 579.0,342.3 578.5,342.3 578.0,342.8 577.5,343.8 577.0,344.3 576.4,344.2 575.9,343.0 575.3,343.0 574.7,342.7 574.2,341.8 573.6,341.3 573.0,344.3 572.4,346.7 571.7,346.2 571.0,346.3 570.5,346.3 570.0,345.4 569.5,344.5 569.0,344.3 568.4,344.8 567.9,344.9 567.3,346.0 566.7,345.7 566.2,346.1 565.6,346.8 565.1,346.4 564.6,346.6 564.1,346.1 563.6,345.4 563.1,344.6 562.6,345.2 562.0,344.9 561.5,343.8 561.0,344.1 560.5,343.0 560.0,343.0 559.5,342.7 559.0,342.4 558.5,342.1 558.0,341.6 557.5,341.7 557.0,341.5 556.5,341.2 556.0,340.5 555.4,340.0 554.9,339.7 554.4,340.0 553.9,339.5 553.4,339.6 552.9,338.9 552.4,338.8 552.0,329.4 551.5,333.8 551.0,338.8 550.5,337.8 550.0,337.8 549.5,337.2 549.0,336.7 548.5,336.1 548.0,335.3 547.5,334.6 547.0,334.1 546.5,334.0 546.0,333.2 545.5,332.0 545.0,332.0 544.5,330.9 543.9,330.1 543.4,329.7 542.9,329.6 542.4,328.4 541.9,328.4 541.4,327.7 540.9,327.0 540.4,326.7 539.9,326.1 539.4,324.8 538.9,324.7 538.4,324.3 537.9,323.6 537.4,322.9 537.0,362.9 536.5,362.5 536.0,361.8 535.5,361.6 535.0,360.3 534.5,360.0 534.0,359.2 533.5,358.5 533.0,358.2 532.5,358.1 532.0,357.5 531.5,357.1 531.0,356.3 530.5,355.9 530.0,355.4 529.5,354.8 529.0,353.9 528.5,353.4 528.0,352.5 527.5,352.6 527.0,351.9 526.5,351.3 526.0,351.0 525.5,350.4 525.0,349.5 524.5,348.6 524.0,348.8 523.5,348.5 523.0,347.5 522.5,347.9 522.0,346.9 521.5,346.5 521.0,346.6 520.5,346.1 520.0,345.5 519.5,345.1 519.0,344.7 518.5,344.0 518.0,343.5 517.5,342.7 517.0,342.2 516.5,341.5 516.0,341.0 515.5,340.8 515.0,340.4 514.5,340.5 514.0,341.2 513.5,341.4 513.0,342.4 512.5,341.8 512.0,340.9 511.5,340.6 511.0,339.9 510.5,339.2 510.0,338.2 509.5,337.9 509.0,337.4 508.5,337.7 508.0,338.9 507.5,338.7 507.0,339.5 506.5,340.4 506.0,340.4 505.2,332.0 504.4,340.4 503.7,342.9 503.0,344.4 502.5,343.7 501.9,343.4 501.4,342.7 500.9,342.6 500.3,341.9 499.8,341.4 499.3,341.0 498.7,341.0 498.2,340.7 497.7,340.2 497.1,339.0 496.6,339.0 496.1,342.3 495.6,346.4 495.1,345.8 494.6,346.0 494.1,344.9 493.6,344.7 493.0,344.3 492.5,344.2 492.0,343.9 491.5,343.8 491.0,343.4 490.5,343.9 490.0,344.4 489.5,344.2 489.0,345.2 488.5,345.2 488.0,345.4 487.5,344.8 487.0,344.1 486.5,344.0 485.9,343.1 485.4,342.4 484.9,342.2 484.4,341.4 483.7,342.5 483.0,344.3 482.5,344.3 482.0,343.3 481.5,342.5 481.0,342.4 480.5,342.1 480.0,341.3 479.5,343.4 479.0,346.3 478.5,345.7 478.0,345.1 477.5,345.1 477.0,344.5 476.5,344.5 476.0,343.9 475.5,344.0 475.0,343.3 474.5,346.1 474.0,349.3 473.5,349.5 473.0,349.7 472.5,349.9 472.0,350.3 471.5,350.6 471.0,351.3 470.5,350.5 470.0,350.2 469.5,349.2 469.0,348.7 468.5,348.8 468.0,347.9 467.5,347.1 467.0,346.6 466.5,346.4 466.0,345.0 465.5,345.2 465.0,344.3 464.5,343.4 464.0,343.6 463.5,343.0 463.0,342.8 462.4,341.4 461.9,341.3 461.4,341.1 460.9,339.9 460.4,339.9 459.6,351.3 459.1,350.4 458.6,350.6 458.1,350.1 457.5,350.0 457.0,348.8 456.5,348.5 456.0,348.3 455.5,348.6 455.0,348.7 454.5,348.2 454.0,347.9 453.5,348.0 453.0,348.5 452.5,347.8 452.0,348.3 451.5,347.8 451.0,347.4 450.5,348.0 450.0,347.5 449.5,347.5 449.0,346.3 448.5,346.5 448.0,346.4 447.5,345.8 447.0,345.3 446.5,345.4 446.0,345.2 445.5,349.3 445.0,353.2 444.5,352.3 444.0,352.6 443.5,351.8 443.0,351.2 442.5,350.9 442.0,350.7 441.5,350.2 441.0,349.5 440.5,349.7 440.0,349.4 439.5,348.5 439.0,348.0 438.5,348.1 438.0,347.2 437.5,346.9 437.0,347.5 436.5,347.3 436.0,346.5 435.5,347.0 435.0,346.9 434.5,346.3 434.0,346.9 433.5,346.7 433.0,346.5 432.5,345.9 432.0,346.2 431.5,347.4 431.0,349.2 430.5,348.7 430.0,349.0 429.5,348.5 429.0,348.5 428.5,349.1 428.0,349.1 427.5,348.6 427.0,348.2 426.5,348.8 426.0,348.7 425.5,348.4 425.0,348.5 424.5,348.0 424.0,347.9 423.5,347.8 423.0,347.9 422.5,347.6 422.0,347.5 421.5,347.6 421.0,347.3 420.5,347.7 420.0,347.2 419.5,347.5 419.0,347.3 418.5,347.3 418.0,347.6 417.5,347.1 417.0,347.2 416.5,347.5 416.0,347.1 415.5,347.8 415.0,347.6 414.5,347.6 414.0,347.5 413.5,347.7 413.0,348.0 412.5,347.7 412.0,347.5 411.5,348.2 411.0,347.4 410.5,347.6 410.0,347.9 409.5,347.5 409.0,348.1 408.5,348.1 408.0,348.1 407.5,347.1 407.0,346.6 406.5,345.1 406.0,344.1 405.5,344.6 404.9,344.3 404.4,344.3 403.8,344.2 403.3,344.4 402.8,345.0 402.3,344.3 401.8,344.7 401.3,344.7 400.8,345.2 400.2,345.0 399.7,345.2 399.2,345.3 398.7,345.3 398.2,346.1 397.7,345.9 397.1,341.4 396.5,336.1 396.0,336.4 395.5,337.3 395.0,337.3 394.5,337.8 394.0,338.5 393.5,338.4 393.0,336.6 392.5,335.5 392.0,334.6 391.5,335.0 391.0,335.2 390.5,335.9 390.0,336.6 389.5,336.8 389.0,336.9 388.3,331.6 387.8,331.5 387.3,332.4 386.8,332.4 386.3,330.8 385.8,328.0 385.3,326.4 384.8,326.4 384.2,326.9 383.7,327.9 383.1,328.5 382.6,328.4 382.0,328.8 381.5,329.4 381.0,330.6 380.4,331.1 379.9,331.4 379.3,332.6 378.8,333.1 378.3,332.2 377.8,331.9 377.2,331.6 376.7,330.8 375.8,324.8 375.3,326.2 374.8,327.0 374.3,325.7 373.8,323.7 373.3,321.8 372.8,320.7 372.3,320.6 371.8,319.5 371.2,319.7 370.6,319.5 370.1,319.9 369.5,319.5 368.9,316.9 368.3,313.5 367.6,315.1 367.0,316.5 366.2,310.8 365.6,311.4 364.9,312.3 364.3,313.5 363.8,314.4 363.3,315.5 362.8,316.7 362.3,318.0 361.7,312.0 361.1,311.0 360.5,309.0 359.9,309.0 359.3,308.4 358.7,307.4 358.1,308.7 357.5,310.2 357.0,309.9 356.5,308.8 356.0,307.8 355.5,308.2 355.0,308.8 354.5,309.2 354.0,309.8 353.5,310.7 353.0,311.5 352.5,311.8 352.0,313.0 351.5,313.3 351.0,314.8 350.5,315.9 350.0,317.0 349.4,318.3 348.9,319.2 348.4,319.7 347.9,321.0 347.4,322.2 346.8,282.2 346.3,284.0 345.8,285.2 345.3,286.9 344.8,287.8 344.3,289.5 343.8,290.9 343.3,292.7 342.6,292.5 342.0,292.0 341.5,293.2 341.0,294.1 340.5,294.4 340.0,295.2 339.5,296.1 339.0,297.9 338.5,298.8 338.0,300.4 337.4,298.4 336.7,296.4 336.0,298.2 335.3,299.0 334.4,291.7 333.9,292.9 333.3,295.0 332.8,291.3 332.3,288.2 331.7,290.2 331.2,291.2 330.6,292.9 330.1,294.2 329.5,295.8 329.0,297.8 328.4,299.5 327.9,291.7 327.3,284.0 326.8,285.6 326.2,286.6 325.6,286.9 325.1,288.3 324.6,289.3 324.0,290.6 323.3,284.6 322.6,286.3 322.0,288.5 321.4,284.5 320.7,281.2 320.0,282.5 319.3,283.7 318.6,278.8 318.0,273.1 317.4,273.9 316.7,275.6 316.2,272.8 315.7,270.3 315.2,271.0 314.7,272.1 314.2,273.1 313.7,274.2 313.2,275.6 312.7,276.8 312.2,278.1 311.7,279.7 311.2,281.2 310.7,282.8 310.2,285.0 309.7,286.0 309.2,288.0 308.6,281.2 308.0,274.6 307.4,275.1 306.7,275.8 305.8,271.3 305.2,275.2 304.7,278.5 304.0,276.7 303.3,274.1 302.6,277.3 302.0,280.0 301.4,276.5 300.7,272.2 300.0,272.8 299.3,274.3 298.7,257.7 298.1,259.0 297.6,260.1 297.0,261.2 296.4,262.5 295.9,263.9 295.3,264.6 294.8,265.6 294.3,266.4 293.8,267.4 293.3,267.9 292.8,269.1 292.3,270.3 291.8,266.0 291.3,261.5 290.4,266.8 289.7,260.8 289.0,254.7 288.5,256.3 288.0,258.2 287.5,260.1 287.0,262.0 286.5,264.7 286.0,266.5 285.5,267.9 285.0,270.0 284.5,262.8 284.0,255.8 283.5,257.6 282.9,260.3 282.4,262.4 281.9,264.5 281.4,266.3 280.8,268.3 280.3,270.4 279.8,262.5 279.3,255.5 278.8,258.1 278.3,259.8 277.8,261.8 277.2,263.9 276.7,266.7 276.2,268.2 275.7,270.9 275.1,268.8 274.6,267.2 274.0,265.9 273.5,263.3 273.0,260.3 272.5,258.3 272.0,255.6 271.5,257.4 271.0,259.2 270.5,261.6 270.0,263.2 269.4,260.7 268.7,257.1 268.2,259.5 267.6,261.8 267.1,263.3 266.6,266.1 266.1,268.1 265.6,270.8 265.0,272.9 264.5,274.8 264.0,276.7 263.5,278.9 263.0,281.0 262.5,283.1 262.0,284.7 261.5,287.3 261.0,289.0 260.3,257.8 259.7,260.5 259.1,263.3 258.6,265.8 258.0,268.3 257.4,270.6 256.9,273.7 256.4,276.1 255.8,279.4 255.2,281.8 254.7,284.6 254.2,286.6 253.7,289.9 253.1,291.6 252.6,294.4 252.1,297.0 251.6,299.0 251.1,301.5 250.6,303.5 250.0,306.4 249.5,308.9 249.0,311.0 248.5,299.1 248.0,287.6 247.3,290.1 246.7,292.7 246.0,281.3 245.5,284.1 245.0,286.6 244.5,289.5 244.0,292.5 243.5,294.8 243.0,297.4 242.5,300.2 242.0,303.4 241.3,286.0 240.8,287.7 240.3,289.1 239.8,291.0 239.3,292.6 238.7,293.8 238.2,296.1 237.7,297.2 237.2,298.6 236.7,300.7 236.1,302.9 235.5,305.6 234.9,308.4 234.0,291.0 233.3,297.6 232.7,303.5 232.0,295.0 231.3,287.3 230.8,291.1 230.2,293.8 229.7,297.2 229.2,300.8 228.7,303.8 228.1,306.6 227.6,310.1 227.0,303.3 226.4,297.3 225.9,303.2 225.3,308.5 224.8,299.7 224.3,291.0 223.7,294.7 223.2,298.7 222.6,303.1 222.1,306.8 221.5,311.3 221.0,315.5 220.5,319.2 220.0,323.8 219.3,287.0 218.8,287.7 218.3,288.6 217.7,288.9 217.2,290.1 216.7,290.7 216.0,301.0 215.5,297.1 214.9,293.7 214.4,290.3 214.0,301.6 211.3,308.1" fill="#808080" fill-opacity="0.4" stroke="#808080" stroke-opacity="0.4" stroke-width="1.39" stroke-linejoin="miter"/>
<polygon points="160.3,60.0 162.1,60.0 162.1,239.0 160.3,239.0" fill="#808080" fill-opacity="0.45"/>
<polygon points="163.0,136.0 164.6,136.0 164.6,311.0 163.0,311.0" fill="#808080" fill-opacity="0.45"/>
<polygon points="166.8,375.0 168.4,375.0 168.4,428.0 166.8,428.0" fill="#808080" fill-opacity="0.45"/>
<polygon points="170.3,454.0 171.9,454.0 171.9,465.0 170.3,465.0" fill="#808080" fill-opacity="0.45"/>
<polygon points="176.4,265.0 179.0,265.0 179.0,364.0 176.4,364.0" fill="#808080" fill-opacity="0.45"/>
<polygon points="181.9,60.0 183.8,60.0 183.8,222.0 181.9,222.0" fill="#808080" fill-opacity="0.45"/>
<polygon points="185.0,405.0 188.5,405.0 190.0,421.0 185.0,421.0" fill="#808080" fill-opacity="0.45"/>
<polygon points="201.1,60.0 202.9,60.0 202.9,194.0 201.1,194.0" fill="#808080" fill-opacity="0.45"/>
<polygon points="154.0,492.0 158.0,488.0 164.0,485.0 160.0,491.0 157.0,495.0 154.5,498.5" fill="#808080" fill-opacity="0.45"/>
<polygon points="154.1,470.0 155.1,470.0 155.1,483.0 154.1,483.0" fill="#808080" fill-opacity="0.45"/>
<polyline points="186.7,443.5 189.0,434.8 191.3,425.5 193.0,416.0 195.0,407.0 196.6,395.0 200.5,365.0 204.3,340.0 208.0,315.0 211.3,297.0" fill="none" stroke="#808080" stroke-opacity="0.4" stroke-width="6.6" stroke-linejoin="round" stroke-linecap="butt"/>
<polyline points="211.3,297.0 214.0,288.7 214.4,277.3 214.9,280.5 215.5,283.6 216.0,287.3 216.7,276.7 217.2,275.9 217.7,274.4 218.3,273.9 218.8,272.8 219.3,272.0 220.0,308.7 220.5,304.0 221.0,300.2 221.5,296.0 222.1,291.4 222.6,287.7 223.2,283.1 223.7,279.0 224.3,275.3 224.8,283.9 225.3,292.7 225.9,287.3 226.4,281.3 227.0,287.3 227.6,294.0 228.1,290.4 228.7,287.5 229.2,284.5 229.7,280.8 230.2,277.3 230.8,274.5 231.3,270.7 232.0,278.2 232.7,286.7 233.3,280.7 234.0,274.0 234.9,291.3 235.5,288.4 236.1,285.6 236.7,283.3 237.2,281.2 237.7,279.7 238.2,278.5 238.7,276.2 239.3,274.9 239.8,273.2 240.3,271.3 240.8,269.7 241.3,268.0 242.0,285.3 242.5,282.0 243.0,279.2 243.5,276.5 244.0,274.2 244.5,271.1 245.0,268.2 245.5,265.6 246.0,262.7 246.7,274.0 247.3,271.3 248.0,268.7 248.5,280.1 249.0,292.0 249.5,289.7 250.0,287.1 250.6,284.0 251.1,281.8 251.6,279.2 252.1,276.9 252.6,274.2 253.1,271.2 253.7,269.3 254.2,265.9 254.7,263.7 255.2,260.7 255.8,258.2 256.4,254.7 256.9,252.1 257.4,248.7 258.0,246.3 258.6,243.6 259.1,240.9 259.7,237.9 260.3,235.0 261.0,266.0 261.5,264.1 262.0,261.2 262.5,259.3 263.0,257.0 263.5,254.7 264.0,252.2 264.5,250.0 265.0,247.9 265.6,245.5 266.1,242.6 266.6,240.3 267.1,237.2 267.6,235.4 268.2,232.9 268.7,230.3 269.4,233.5 270.0,235.7 270.5,234.0 271.0,231.5 271.5,229.6 272.0,227.7 272.5,230.4 273.0,232.2 273.5,235.2 274.0,237.7 274.6,238.9 275.1,240.4 275.7,242.3 276.2,239.6 276.7,238.0 277.2,235.1 277.8,232.9 278.3,230.8 278.8,229.0 279.3,226.3 279.8,233.2 280.3,241.0 280.8,238.8 281.4,236.7 281.9,234.8 282.4,232.6 282.9,230.4 283.5,227.7 284.0,225.7 284.5,232.6 285.0,239.7 285.5,237.6 286.0,236.1 286.5,234.2 287.0,231.4 287.5,229.4 288.0,227.4 288.5,225.4 289.0,223.7 289.7,229.7 290.4,235.7 291.3,230.3 291.8,234.7 292.3,239.0 292.8,237.8 293.3,236.5 293.8,235.9 294.3,234.9 294.8,234.1 295.3,233.0 295.9,232.2 296.4,230.8 297.0,229.4 297.6,228.3 298.1,227.1 298.7,225.7 299.3,242.3 300.0,240.7 300.7,240.0 301.4,244.2 302.0,247.7 302.6,245.0 303.3,241.7 304.0,244.2 304.7,245.9 305.2,242.5 305.8,238.6 306.7,243.0 307.4,242.2 308.0,241.7 308.6,248.2 309.2,255.0 309.7,253.0 310.2,251.9 310.7,249.7 311.2,248.1 311.7,246.6 312.2,245.0 312.7,243.7 313.2,242.4 313.7,241.0 314.2,239.9 314.7,238.9 315.2,237.7 315.7,237.0 316.2,239.5 316.7,242.3 317.4,240.5 318.0,239.7 318.6,245.4 319.3,250.3 320.0,249.1 320.7,247.7 321.4,251.0 322.0,255.0 322.6,252.8 323.3,251.0 324.0,257.0 324.6,255.7 325.1,254.6 325.6,253.3 326.2,252.9 326.8,251.9 327.3,250.3 327.9,258.0 328.4,265.7 329.0,264.1 329.5,262.0 330.1,260.4 330.6,259.0 331.2,257.3 331.7,256.3 332.3,254.3 332.8,257.3 333.3,261.0 333.9,258.9 334.4,257.7 335.3,265.0 336.0,264.1 336.7,262.3 337.4,264.3 338.0,266.3 338.5,264.6 339.0,263.7 339.5,261.9 340.0,261.0 340.5,260.2 341.0,259.8 341.5,258.9 342.0,257.7 342.6,258.2 343.3,258.3 343.8,256.5 344.3,255.1 344.8,253.4 345.3,252.5 345.8,250.8 346.3,249.5 346.8,247.7 347.4,287.7 347.9,286.4 348.4,285.1 348.9,284.5 349.4,283.5 350.0,282.2 350.5,281.0 351.0,279.8 351.5,278.3 352.0,277.9 352.5,276.7 353.0,276.3 353.5,275.5 354.0,274.5 354.5,273.8 355.0,273.4 355.5,272.7 356.0,272.3 356.5,273.2 357.0,274.2 357.5,274.5 358.1,272.9 358.7,271.5 359.3,272.4 359.9,273.0 360.5,273.0 361.1,275.0 361.7,276.0 362.3,282.0 362.8,280.7 363.3,279.5 363.8,278.4 364.3,277.5 364.9,276.3 365.6,275.4 366.2,274.8 367.0,280.5 367.6,279.1 368.3,277.5 368.9,280.9 369.5,283.5 370.1,283.8 370.6,283.5 371.2,283.7 371.8,283.5 372.3,284.6 372.8,284.6 373.3,285.8 373.8,287.7 374.3,289.7 374.8,291.0 375.3,290.2 375.8,288.8 376.7,294.8 377.2,295.6 377.8,295.9 378.3,296.1 378.8,297.0 379.3,296.5 379.9,295.4 380.4,295.1 381.0,294.5 381.5,293.3 382.0,292.8 382.6,292.3 383.1,292.5 383.7,291.8 384.2,290.8 384.8,290.4 385.3,290.3 385.8,292.0 386.3,294.7 386.8,296.3 387.3,296.3 387.8,295.4 388.3,295.5 389.0,300.8 389.5,300.7 390.0,300.5 390.5,299.8 391.0,299.1 391.5,298.9 392.0,298.5 392.5,299.4 393.0,300.5 393.5,302.3 394.0,302.4 394.5,301.7 395.0,301.2 395.5,301.2 396.0,300.3 396.5,300.0 397.1,305.3 397.7,309.8 398.2,310.0 398.7,309.2 399.2,309.1 399.7,309.0 400.2,308.9 400.8,309.1 401.3,308.6 401.8,308.6 402.3,308.2 402.8,308.8 403.3,308.3 403.8,308.1 404.4,308.1 404.9,308.2 405.5,308.5 406.0,308.0 406.5,308.9 407.0,310.4 407.5,311.0 408.0,312.0 408.5,312.0 409.0,311.9 409.5,311.4 410.0,311.8 410.5,311.5 411.0,311.3 411.5,312.0 412.0,311.3 412.5,311.6 413.0,311.8 413.5,311.6 414.0,311.3 414.5,311.5 415.0,311.5 415.5,311.7 416.0,310.9 416.5,311.4 417.0,311.0 417.5,311.0 418.0,311.4 418.5,311.1 419.0,311.1 419.5,311.3 420.0,311.0 420.5,311.5 421.0,311.1 421.5,311.4 422.0,311.4 422.5,311.5 423.0,311.7 423.5,311.6 424.0,311.8 424.5,311.8 425.0,312.4 425.5,312.2 426.0,312.5 426.5,312.6 427.0,312.0 427.5,312.4 428.0,312.9 428.5,312.9 429.0,312.3 429.5,312.3 430.0,312.8 430.5,312.5 431.0,313.0 431.5,311.2 432.0,310.0 432.5,309.7 433.0,310.3 433.5,310.5 434.0,310.7 434.5,310.1 435.0,310.7 435.5,310.7 436.0,310.3 436.5,311.1 437.0,311.3 437.5,310.6 438.0,311.0 438.5,311.9 439.0,311.8 439.5,312.3 440.0,313.2 440.5,313.5 441.0,313.2 441.5,313.9 442.0,314.4 442.5,314.7 443.0,315.0 443.5,315.5 444.0,316.4 444.5,316.1 445.0,317.0 445.5,313.1 446.0,309.0 446.5,309.2 447.0,309.0 447.5,309.6 448.0,310.1 448.5,310.3 449.0,310.1 449.5,311.2 450.0,311.3 450.5,311.7 451.0,311.1 451.5,311.5 452.0,312.0 452.5,311.5 453.0,312.3 453.5,311.8 454.0,311.6 454.5,311.9 455.0,312.4 455.5,312.3 456.0,312.0 456.5,312.2 457.0,312.5 457.5,313.7 458.1,313.8 458.6,314.3 459.1,314.2 459.6,315.0 460.4,303.6 460.9,303.6 461.4,304.8 461.9,305.0 462.4,305.1 463.0,306.5 463.5,306.7 464.0,307.3 464.5,307.1 465.0,308.0 465.5,308.9 466.0,308.7 466.5,310.1 467.0,310.3 467.5,310.8 468.0,311.6 468.5,312.5 469.0,312.4 469.5,312.9 470.0,313.9 470.5,314.2 471.0,315.0 471.5,314.3 472.0,314.0 472.5,313.6 473.0,313.4 473.5,313.1 474.0,313.0 474.5,309.8 475.0,307.0 475.5,307.6 476.0,307.5 476.5,308.1 477.0,308.2 477.5,308.7 478.0,308.8 478.5,309.4 479.0,310.0 479.5,307.0 480.0,305.0 480.5,305.7 481.0,306.1 481.5,306.2 482.0,307.0 482.5,307.9 483.0,308.0 483.7,306.1 484.4,305.0 484.9,305.9 485.4,306.1 485.9,306.7 486.5,307.6 487.0,307.8 487.5,308.4 488.0,309.0 488.5,308.9 489.0,308.8 489.5,307.8 490.0,308.0 490.5,307.5 491.0,307.0 491.5,307.5 492.0,307.6 492.5,307.8 493.0,307.9 493.6,308.3 494.1,308.6 494.6,309.6 495.1,309.4 495.6,310.0 496.1,306.0 496.6,302.6 497.1,302.6 497.7,303.8 498.2,304.3 498.7,304.6 499.3,304.6 499.8,305.0 500.3,305.5 500.9,306.2 501.4,306.3 501.9,307.0 502.5,307.3 503.0,308.0 503.7,306.5 504.4,304.0 505.2,295.6 506.0,304.0 506.5,304.0 507.0,303.0 507.5,302.2 508.0,302.5 508.5,301.3 509.0,301.0 509.5,301.5 510.0,301.8 510.5,302.8 511.0,303.5 511.5,304.1 512.0,304.5 512.5,305.4 513.0,306.0 513.5,305.0 514.0,304.8 514.5,304.1 515.0,304.0 515.5,304.4 516.0,304.5 516.5,305.0 517.0,305.8 517.5,306.2 518.0,307.1 518.5,307.5 519.0,308.3 519.5,308.7 520.0,309.0 520.5,309.6 521.0,310.2 521.5,310.1 522.0,310.4 522.5,311.5 523.0,311.0 523.5,312.0 524.0,312.3 524.5,312.1 525.0,313.0 525.5,313.9 526.0,314.5 526.5,314.8 527.0,315.5 527.5,316.1 528.0,316.0 528.5,316.9 529.0,317.5 529.5,318.4 530.0,318.9 530.5,319.5 531.0,319.8 531.5,320.7 532.0,321.0 532.5,321.6 533.0,321.7 533.5,322.0 534.0,322.7 534.5,323.5 535.0,323.8 535.5,325.1 536.0,325.3 536.5,326.0 537.0,326.4 537.4,286.4 537.9,287.1 538.4,287.8 538.9,288.2 539.4,288.3 539.9,289.7 540.4,290.2 540.9,290.6 541.4,291.2 541.9,291.9 542.4,291.9 542.9,293.2 543.4,293.3 543.9,293.7 544.5,294.5 545.0,295.5 545.5,295.6 546.0,296.7 546.5,297.5 547.0,297.7 547.5,298.1 548.0,298.8 548.5,299.6 549.0,300.3 549.5,300.7 550.0,301.4 550.5,301.4 551.0,302.4 551.5,297.3 552.0,293.0 552.4,302.4 552.9,302.4 553.4,303.2 553.9,303.0 554.4,303.6 554.9,303.3 555.4,303.6 556.0,304.1 556.5,304.8 557.0,305.1 557.5,305.3 558.0,305.2 558.5,305.7 559.0,306.0 559.5,306.3 560.0,306.6 560.5,306.6 561.0,307.7 561.5,307.4 562.0,308.5 562.6,308.8 563.1,308.2 563.6,309.0 564.1,309.7 564.6,310.2 565.1,310.0 565.6,310.4 566.2,309.8 566.7,309.3 567.3,309.6 567.9,308.5 568.4,308.5 569.0,308.0 569.5,308.1 570.0,309.0 570.5,310.0 571.0,310.0 571.7,309.8 572.4,310.4 573.0,308.0 573.6,305.0 574.2,305.5 574.7,306.4 575.3,306.7 575.9,306.7 576.4,307.9 577.0,308.0 577.5,307.5 578.0,306.5 578.5,306.0 579.0,306.0 579.6,306.5 580.1,307.0 580.7,307.3 581.3,307.6 581.8,308.3 582.4,309.0 582.9,304.8 583.4,301.0 583.9,301.5 584.4,300.8 584.9,301.7 585.5,301.9 586.0,301.3 586.5,302.3 587.0,302.0 587.5,302.7 588.0,303.3 588.5,303.1 589.0,303.6 589.5,304.1 590.0,305.2 590.5,305.2 591.0,305.4 591.5,305.9 592.0,306.2 592.5,306.4 593.0,306.9 593.5,308.1 594.0,308.0 594.5,309.1 595.0,308.9 595.5,309.3 596.0,310.0 596.5,310.1 597.0,309.8 597.5,310.0 598.1,310.7 598.6,310.7 599.1,310.7 599.6,310.4 600.4,302.0 600.9,301.7 601.4,301.5 602.0,301.0 602.5,300.1 603.0,299.6 603.5,300.3 604.0,300.0 604.5,301.2 605.0,301.3 605.5,302.1 606.0,302.4 606.5,302.5 607.0,302.7 607.5,304.0 608.0,304.0 608.5,302.3 609.1,301.3 609.6,300.0 610.1,300.3 610.7,300.7 611.2,301.6 611.7,302.3 612.3,302.1 612.8,303.0 613.3,303.1 613.9,303.8 614.4,304.1 614.9,304.3 615.5,304.8 616.0,305.6 616.5,302.5 617.0,300.0 617.5,300.7 618.0,300.5 618.5,300.5 619.0,301.4 619.5,301.8 620.0,301.5 620.5,301.5 621.0,301.8 621.6,301.9 622.1,302.4 622.6,302.4 623.1,302.8 623.6,303.1 624.1,303.7 624.6,304.3 625.1,304.4 625.6,304.4 626.1,299.9 626.6,295.6 627.2,295.9 627.7,296.4 628.3,296.7 628.9,297.0 629.4,297.2 630.0,298.0 630.5,297.0 631.0,297.0 631.5,295.4 632.0,295.0 632.5,295.5 633.0,296.2 633.5,297.0 634.0,296.9 634.5,297.5 635.1,298.0 635.6,298.7 636.1,299.3 636.6,300.4 637.1,300.8 637.6,301.0 638.1,297.1 638.6,292.4 639.3,292.5 640.0,293.6 640.5,289.8 641.0,287.0 641.5,287.6 642.0,288.2 642.5,288.2 643.0,288.7 643.5,288.5 644.0,289.3 644.5,290.3 645.0,290.6 645.5,291.0 646.0,291.6 646.5,291.2 647.0,291.5 647.5,292.0 648.0,292.7 648.5,293.3 649.0,294.0 649.5,294.2 650.0,294.5 650.5,295.0 651.0,295.1 651.5,295.6 652.0,296.0 652.5,295.9 653.0,296.9 653.5,296.7 654.0,297.7 654.5,297.7 655.0,297.7 655.5,297.8 656.0,298.3 656.5,299.0 657.0,299.4 657.5,299.1 658.0,299.4 658.5,300.1 659.0,300.5 659.5,300.6 660.0,300.8 660.5,301.5 661.0,301.2 661.5,301.8 662.0,302.3 662.5,303.1 663.0,303.1 663.5,303.7 664.0,303.6 664.5,303.7 665.0,303.6 665.5,303.8 666.0,304.6 666.5,304.5 667.0,304.2 667.5,304.1 668.0,304.7 668.5,305.0 669.0,305.0 669.5,301.4 670.0,298.0 670.5,297.5 671.0,297.6 671.5,297.6 672.0,296.7 672.5,296.2 673.0,296.4 673.5,296.6 674.1,297.0 674.6,297.7 675.2,297.5 675.7,298.5 676.2,298.8 676.8,298.9 677.3,299.0 677.9,300.1 678.4,300.0 679.0,294.3 679.6,289.0 680.1,289.7 680.6,289.5 681.2,289.9 681.7,290.9 682.2,290.8 682.7,291.9 683.2,291.8 683.8,291.9 684.3,292.3 684.8,292.9 685.3,293.6 685.8,294.2 686.4,293.8 686.9,294.5 687.4,294.7 687.9,295.9 688.4,295.4 689.0,295.8 689.5,296.2 690.0,297.0 690.5,296.4 691.0,296.4 691.5,295.9 692.0,295.0 692.5,295.6 693.0,296.2 693.5,296.4 694.0,296.2 694.5,296.4 695.0,297.4 695.5,297.6 696.0,297.2 696.5,298.2 697.0,298.2 697.5,298.5 698.0,298.8 698.5,299.0 699.0,299.2 699.5,299.8 700.0,300.2 700.5,301.1 701.0,301.0 701.5,298.6 702.0,297.0 702.6,298.0 703.2,297.7 703.8,298.4 704.4,299.0 704.9,298.9 705.5,298.4 706.0,297.6 706.5,297.9 707.0,297.9 707.6,298.7 708.1,299.0 708.6,299.9 709.1,299.6 709.6,300.1 710.1,301.1 710.7,300.6 711.2,301.3 711.7,302.1 712.2,302.4 712.7,302.1 713.3,302.5 713.8,302.9 714.3,304.1 714.8,303.8 715.3,304.7 715.8,305.3 716.4,305.1 716.9,305.4 717.4,306.0 718.2,287.4 718.7,288.2 719.2,288.3 719.7,288.3 720.2,289.2 720.8,289.1 721.3,289.5 721.8,289.6 722.3,290.7 722.8,291.3 723.3,291.4 723.8,292.1 724.3,291.5 724.9,292.1 725.4,292.8 725.9,293.6 726.4,294.0 726.9,293.8 727.4,294.1 727.9,294.6 728.4,295.1 729.0,295.9 729.5,295.5 730.0,296.5 730.5,296.9 731.0,297.0 731.5,297.1 732.0,296.8 732.5,296.4 733.0,296.0 733.5,296.2 734.0,296.5 734.5,296.9 735.0,297.7 735.5,297.3 736.0,297.8 736.5,298.7 737.0,298.5 737.5,298.7 738.0,299.0 738.5,299.9 739.0,300.0 739.5,301.0 740.0,301.3 740.5,301.7 741.0,301.4 741.5,301.5 742.0,301.9 742.5,302.6 743.0,303.0 743.7,301.5 744.4,299.6 744.9,299.9 745.4,300.0 745.9,300.5 746.5,301.1 747.0,301.5 747.5,301.9 748.0,302.0 748.6,298.3 749.2,294.0 749.7,294.4 750.2,294.2 750.7,295.2 751.2,294.9 751.8,295.5 752.3,295.5 752.8,296.2 753.3,295.9 753.8,296.2 754.3,296.5 754.8,296.7 755.3,297.7 755.8,297.7 756.4,297.7 756.9,298.1 757.4,298.9 757.9,298.7 758.4,298.7 758.9,299.6 759.4,299.7 759.9,300.3 760.4,299.7 761.0,300.4 761.5,301.0 762.0,301.3 762.5,301.6 763.0,301.0 763.5,301.6 764.0,301.7 764.5,302.0 765.0,303.1 765.6,303.0 766.1,303.6 766.6,303.3 767.1,304.1 767.6,304.0 768.2,301.1 768.8,298.4 769.3,298.5 769.9,299.3 770.4,299.8 770.9,299.3 771.5,300.2 772.0,300.4 772.5,299.6 773.1,298.3 773.6,297.6 774.1,297.8 774.6,297.9 775.1,298.3 775.7,298.7 776.2,299.3 776.7,299.7 777.2,299.6 777.7,299.7 778.2,300.3 778.7,301.0 779.3,300.8 779.8,301.3 780.3,301.5 780.8,302.4 781.3,302.5 781.8,302.3 782.3,302.7 782.9,303.3 783.4,303.8 783.9,304.2 784.4,304.4 784.9,297.8 785.4,292.0 785.9,292.0 786.4,292.9 786.9,292.9 787.4,293.1 787.9,293.5 788.4,294.5 788.9,294.1 789.4,294.7 789.9,294.9 790.4,295.2 791.0,296.0 791.5,296.5 792.0,296.2 792.5,296.4 793.0,297.2 793.5,297.0 794.0,297.2 794.5,298.4 795.0,298.3 795.5,299.0 796.0,299.0 796.5,298.6 797.0,298.7 797.5,297.9 798.0,297.6 798.5,297.6 799.0,297.8 799.5,298.7 800.0,299.1 800.5,299.7 801.0,299.3 801.5,300.1 802.0,300.2 802.5,300.7 803.0,300.7 803.5,301.2 804.0,301.8 804.5,302.5 805.0,302.1 805.5,302.8 806.0,303.5 806.5,304.0 807.0,303.5 807.5,303.8 808.0,305.0 808.5,305.4 809.0,305.2 809.5,305.1 810.0,306.3 810.5,306.2 811.0,307.0 811.5,307.1 812.0,307.6 812.5,307.3 813.0,308.0 813.5,308.0 814.0,307.2 814.5,307.2 815.0,307.0 815.5,307.8 816.0,308.2 816.5,308.0 817.0,308.5 817.5,309.1 818.0,309.6 818.5,302.3 819.0,295.0 819.5,295.2 820.0,295.2 820.5,295.7 821.0,296.5 821.5,296.9 822.0,296.4 822.5,297.2 823.0,297.7 823.5,297.3 824.0,298.4 824.5,298.0 825.0,298.8 825.5,299.0 826.0,299.4 826.5,299.4 827.0,299.8 827.5,300.3 828.0,300.5 828.5,301.0 829.0,301.1 829.6,301.4 830.1,301.3 830.6,302.2 831.1,302.4 831.6,302.4 832.1,303.3 832.6,303.6 833.1,303.6 833.6,303.6 834.1,304.2 834.6,304.1 835.1,304.5 835.6,305.1 836.1,305.0 836.6,305.7 837.1,306.1 837.6,305.9 838.1,306.8 838.6,306.6 839.1,307.5 839.6,307.6 840.1,301.6 840.6,295.0 841.1,295.3 841.6,295.2 842.1,295.9 842.6,296.1 843.1,297.0 843.6,296.4 844.1,297.5 844.6,297.9 845.1,297.9 845.6,298.3 846.1,298.0 846.6,299.1 847.1,298.9 847.6,299.7 848.1,299.9 848.6,299.5 849.1,300.4 849.6,300.8 850.1,300.3 850.6,300.9 851.1,301.6 851.6,301.6 852.1,296.5 852.6,292.0 853.1,292.7 853.6,292.3 854.2,293.1 854.7,292.7 855.2,293.4 855.8,294.1 856.3,293.6 856.8,294.0 857.3,294.5 857.9,294.6 858.4,294.6 858.9,295.0 859.4,295.2 860.0,296.3 860.5,296.3 861.0,296.4 861.5,293.8 862.0,290.4 862.5,290.3 863.0,291.2 863.5,290.8 864.0,291.5 864.5,291.9 865.0,291.9 865.5,292.7 866.0,292.7 866.5,293.0 867.0,293.5 867.5,293.0 868.0,294.2 868.5,294.1 869.0,294.1 869.5,294.8 870.0,294.6 870.5,295.6 871.0,295.4 871.5,295.5 872.0,296.2 872.5,296.1 873.0,296.1 873.5,297.0 874.0,297.0 874.5,296.9 875.0,298.0 875.5,297.8 876.0,298.5 876.5,299.2 877.0,299.1 877.5,299.5 878.0,299.5 878.5,299.5 879.0,299.9 879.5,300.3 880.0,301.1 880.5,301.3 881.0,301.7 881.5,302.4 882.0,302.0 882.5,302.4 883.0,303.2 883.5,302.9 884.0,303.2 884.5,303.9 885.0,303.9 885.5,304.5 886.0,305.0 886.5,305.1 887.0,305.9 887.5,306.4 888.0,306.4 888.5,307.2 889.0,307.5 889.5,307.6 890.0,308.8 890.5,308.6 891.0,308.9 891.5,309.3 892.0,310.2 892.5,310.9 893.0,311.2 893.5,311.3 894.0,311.6 894.5,311.7 895.0,312.8 895.5,313.1 896.0,313.5 896.5,313.9 897.0,314.8 897.5,315.1 898.0,316.2 898.5,316.6 899.0,316.7 899.5,317.9 900.0,317.6 900.5,318.6 901.0,319.1 901.5,319.5 902.0,319.9 902.5,321.2 903.0,321.0 903.5,322.1 904.0,323.0 904.5,322.8 905.0,323.4 905.5,324.4 906.0,324.9 906.5,325.6 907.0,326.0 907.5,312.8 908.0,299.0 908.5,299.2 909.0,299.8 909.5,300.3 910.0,300.5 910.5,301.9 911.0,302.3 911.5,302.7 912.0,302.5 912.5,303.8 913.0,304.2 913.5,304.5 914.0,305.2 914.5,305.5 915.0,305.7 915.5,306.1 916.0,306.7 916.5,307.0 917.0,307.8 917.5,308.7 918.0,309.0 918.5,309.5 919.0,310.0 919.5,310.3 920.0,310.2 920.5,310.8 921.0,311.0 921.5,311.7 922.0,311.8 922.5,311.9 923.0,312.6 923.5,313.3 924.0,312.9 924.5,313.9 925.0,313.4 925.5,314.0 926.0,314.3 926.5,315.2 927.0,315.7 927.5,315.9 928.0,315.8 928.5,316.7 929.0,316.5 929.5,316.8 930.0,317.8 930.5,317.9 931.0,318.3 931.5,318.6 932.0,319.3 932.5,319.1 933.0,319.8 933.5,320.0 934.0,320.6 934.5,320.5 935.0,321.1 935.5,321.3 936.0,321.4 936.5,321.7 937.0,322.4 937.5,322.2 938.0,323.4 938.5,323.0 939.0,323.2 939.5,323.7 940.0,324.8 940.5,324.6 941.0,324.7 941.5,325.0 942.0,325.3 942.5,326.3 943.0,326.6 943.5,327.0 944.0,327.4 944.5,327.1 945.0,328.0 945.5,328.1 946.0,328.9 946.5,329.3 947.0,329.7 947.5,329.2 948.0,330.0 948.5,326.9 949.0,323.0 949.5,324.4 950.0,325.4 950.5,325.6 951.0,327.0 951.5,327.0 952.0,327.1 952.5,327.3 953.0,328.0 953.5,323.1 954.0,317.6 954.5,321.5 955.1,324.9 955.6,328.4 956.1,324.0 956.6,319.0 957.1,319.6 957.6,319.7 958.2,320.0 958.7,320.4 959.2,321.6 959.8,321.5 960.3,322.1 960.8,322.6 961.3,322.7 961.9,323.4 962.4,323.9 962.9,324.8 963.4,324.9 964.0,325.3 964.5,326.4 965.0,326.4 965.5,319.4 966.0,312.4 966.5,313.3 967.0,313.6 967.5,313.6 968.0,314.6 968.5,315.1 969.0,316.0 969.5,316.2 970.0,317.1 970.5,317.5 971.0,317.7 971.5,318.9 972.0,318.7 972.5,320.0 973.0,319.9 973.5,320.3 974.0,321.1 974.5,322.2 975.0,323.0 975.5,322.6 976.0,323.6 976.5,324.2 977.0,325.1 977.5,325.0 978.0,325.9 978.5,326.3 979.0,327.0 979.7,318.0 980.4,308.4 980.9,308.4 981.4,309.4 981.9,309.1 982.4,309.3 983.0,310.0 983.5,310.1 984.0,310.0 984.5,310.8 985.0,311.0 985.5,311.2 986.0,312.6 986.5,313.1 987.0,313.8 987.5,314.3 988.0,314.7 988.5,315.4 989.0,316.0 989.5,317.1 990.0,316.9 990.5,318.4 991.0,318.2 991.5,319.0 992.0,319.7 992.5,320.9 993.0,321.2 993.5,321.7 994.0,322.8 994.5,322.8 995.0,323.7 995.5,324.4 996.0,325.0 996.5,324.8 997.0,324.3 997.5,323.6 998.0,323.0 998.5,323.8 999.0,324.7 999.6,325.4 1000.1,327.0 1000.6,327.6 1001.1,318.0 1001.6,308.0 1002.1,309.1 1002.7,309.3 1003.2,310.4 1003.7,311.6 1004.3,312.2 1004.8,312.6 1005.3,313.8 1005.9,315.1 1006.4,315.2 1006.9,316.0 1007.5,317.0 1008.0,318.0 1008.5,316.9 1009.0,315.8 1009.5,313.8 1010.1,312.5 1010.6,311.3 1011.1,310.1 1011.6,309.0 1012.1,309.9 1012.6,310.5 1013.1,311.5 1013.7,312.3 1014.2,314.0 1014.7,314.7 1015.2,314.9 1015.7,316.7 1016.2,316.7 1016.7,317.9 1017.3,319.4 1017.8,320.2 1018.3,321.0 1018.8,321.6 1019.3,322.3 1019.8,323.6 1020.3,324.0 1020.9,325.0 1021.4,326.1 1021.9,326.6 1022.4,328.0 1022.9,322.4 1023.4,317.0 1023.9,316.4 1024.5,315.5 1025.0,314.5 1025.6,313.6 1026.1,315.1 1026.7,316.3 1027.2,317.3 1027.7,319.2 1028.3,320.3 1028.8,322.0 1029.3,323.6 1029.9,324.5 1030.4,326.0 1030.9,327.5 1031.5,328.6 1032.0,330.0 1032.5,310.9 1033.0,292.4 1033.5,294.7 1034.0,296.9 1034.5,298.9 1035.0,300.9 1035.5,303.1 1036.0,305.0 1036.5,307.1 1037.0,309.0 1037.5,309.2 1038.0,309.3 1038.5,309.9 1039.0,310.0 1039.5,307.1 1040.0,305.0 1040.5,309.4 1041.0,314.0 1041.5,312.6 1042.1,310.9 1042.6,309.0 1043.2,312.8 1043.8,316.1 1044.4,320.0 1045.0,306.4 1045.6,293.0 1046.1,299.5 1046.6,306.0 1047.5,275.0 1049.5,291.7 1052.0,312.5 1054.1,331.0 1056.2,350.0 1058.8,372.5 1062.5,400.0 1066.2,427.5 1070.0,450.0 1073.8,468.8 1076.0,478.5 1078.5,488.0" fill="none" stroke="#000" stroke-width="2.4" stroke-linejoin="round" stroke-linecap="butt"/>
<polygon points="157.0,60.0 160.4,60.0 160.4,239.0 162.7,239.0 162.7,311.0 165.0,311.0 165.0,484.0 157.0,489.0 154.0,492.5 154.0,483.0 156.4,482.0 157.0,440.0" fill="#000"/>
<polygon points="166.5,427.0 168.7,427.0 168.7,470.0 169.8,466.0 172.4,465.0 172.4,474.0 174.8,462.0 174.8,474.0 165.0,486.0 165.0,462.0 166.5,458.0" fill="#000"/>
<polygon points="174.0,60.0 176.4,60.0 176.4,472.0 174.0,472.0" fill="#000"/>
<polygon points="176.9,364.0 179.1,364.0 179.1,468.0 176.9,468.0" fill="#000"/>
<polygon points="179.1,412.0 181.3,412.0 181.3,462.0 179.1,462.0" fill="#000"/>
<polygon points="174.7,400.0 177.7,400.0 177.7,470.0 174.7,470.0" fill="#000"/>
<polygon points="181.4,222.4 184.0,222.4 184.0,457.0 181.4,457.0" fill="#000"/>
<polygon points="182.7,400.0 184.9,400.0 184.9,455.0 182.7,455.0" fill="#000"/>
<polygon points="184.5,421.0 191.5,421.0 189.0,437.0 186.7,446.0 184.5,453.0" fill="#000"/>
<polygon points="180.8,443.0 181.8,443.0 181.8,462.0 180.8,462.0" fill="#000"/>
<polygon points="200.1,194.0 203.1,194.0 203.1,362.0 200.1,362.0" fill="#000"/>
<polyline points="155.0,489.5 158.0,486.5 161.0,485.0 164.0,483.3 167.0,480.0 170.0,477.3 173.0,473.3 176.0,468.0 178.5,462.0 181.0,456.3 183.5,449.0 186.0,440.0 188.5,431.0 190.5,422.0 192.5,412.0 194.5,402.0 196.0,394.0" fill="none" stroke="#000" stroke-width="3.7" stroke-linejoin="round" stroke-linecap="round"/>
<polyline points="195.2,404.0 196.6,395.0 200.5,365.0 204.3,340.0 208.0,315.0 211.3,297.0" fill="none" stroke="#000" stroke-width="3.4" stroke-linejoin="round" stroke-linecap="round"/>
<circle cx="157.4" cy="462.4" r="2.9" fill="#0000ff"/>
<circle cx="161.6" cy="454.4" r="2.9" fill="#0000ff"/>
<circle cx="164.4" cy="455.0" r="2.9" fill="#0000ff"/>
<circle cx="158.6" cy="419.4" r="2.9" fill="#0000ff"/>
<circle cx="168.4" cy="424.4" r="2.9" fill="#0000ff"/>
<circle cx="178.4" cy="438.4" r="2.9" fill="#0000ff"/>
<circle cx="185.4" cy="417.4" r="2.9" fill="#0000ff"/>
<circle cx="178.4" cy="409.5" r="2.9" fill="#0000ff"/>
<circle cx="179.4" cy="400.6" r="2.9" fill="#0000ff"/>
<circle cx="177.4" cy="391.6" r="2.9" fill="#0000ff"/>
<circle cx="178.4" cy="356.4" r="2.9" fill="#0000ff"/>
<circle cx="159.4" cy="374.4" r="2.9" fill="#0000ff"/>
<circle cx="158.6" cy="382.4" r="2.9" fill="#0000ff"/>
<circle cx="163.4" cy="301.4" r="2.9" fill="#0000ff"/>
<circle cx="161.4" cy="227.4" r="2.9" fill="#0000ff"/>
<circle cx="183.4" cy="207.4" r="2.9" fill="#0000ff"/>
<circle cx="202.4" cy="178.8" r="2.9" fill="#0000ff"/>
<circle cx="224.4" cy="262.4" r="2.9" fill="#0000ff"/>
<circle cx="220.4" cy="298.3" r="2.9" fill="#0000ff"/>
<circle cx="249.5" cy="280.5" r="2.9" fill="#0000ff"/>
<circle cx="261.5" cy="255.5" r="2.9" fill="#0000ff"/>
<circle cx="261.3" cy="220.3" r="2.9" fill="#0000ff"/>
<circle cx="1033.4" cy="280.6" r="2.9" fill="#0000ff"/>
<circle cx="1047.4" cy="262.5" r="2.9" fill="#0000ff"/>
<circle cx="1048.6" cy="266.5" r="2.9" fill="#0000ff"/>
<circle cx="1048.6" cy="270.0" r="2.9" fill="#0000ff"/>
</g>
<rect x="150.5" y="72.5" width="930" height="462" fill="none" stroke="#000" stroke-width="1.1" shape-rendering="crispEdges"/>
<g stroke="#000" stroke-width="1.1" shape-rendering="crispEdges"><line x1="238.5" y1="534.5" x2="238.5" y2="539.5"/><line x1="364.5" y1="534.5" x2="364.5" y2="539.5"/><line x1="489.5" y1="534.5" x2="489.5" y2="539.5"/><line x1="615.5" y1="534.5" x2="615.5" y2="539.5"/><line x1="741.5" y1="534.5" x2="741.5" y2="539.5"/><line x1="866.5" y1="534.5" x2="866.5" y2="539.5"/><line x1="992.5" y1="534.5" x2="992.5" y2="539.5"/><line x1="145.1" y1="534.5" x2="150.5" y2="534.5"/><line x1="145.1" y1="476.5" x2="150.5" y2="476.5"/><line x1="145.1" y1="419.5" x2="150.5" y2="419.5"/><line x1="145.1" y1="361.5" x2="150.5" y2="361.5"/><line x1="145.1" y1="303.5" x2="150.5" y2="303.5"/><line x1="145.1" y1="245.5" x2="150.5" y2="245.5"/><line x1="145.1" y1="188.5" x2="150.5" y2="188.5"/><line x1="145.1" y1="130.5" x2="150.5" y2="130.5"/><line x1="145.1" y1="72.5" x2="150.5" y2="72.5"/></g>
<text x="229.42" y="555.80" font-size="14.00" textLength="17.44" lengthAdjust="spacingAndGlyphs">20</text>
<text x="355.10" y="555.80" font-size="14.00" textLength="17.44" lengthAdjust="spacingAndGlyphs">30</text>
<text x="480.77" y="555.80" font-size="14.00" textLength="17.44" lengthAdjust="spacingAndGlyphs">40</text>
<text x="606.45" y="555.80" font-size="14.00" textLength="17.44" lengthAdjust="spacingAndGlyphs">50</text>
<text x="732.13" y="555.80" font-size="14.00" textLength="17.44" lengthAdjust="spacingAndGlyphs">60</text>
<text x="857.80" y="555.80" font-size="14.00" textLength="17.44" lengthAdjust="spacingAndGlyphs">70</text>
<text x="983.48" y="555.80" font-size="14.00" textLength="17.44" lengthAdjust="spacingAndGlyphs">80</text>
<text x="131.85" y="539.50" font-size="14.00" textLength="8.12" lengthAdjust="spacingAndGlyphs">0</text>
<text x="131.85" y="481.75" font-size="14.00" textLength="8.12" lengthAdjust="spacingAndGlyphs">5</text>
<text x="123.05" y="424.00" font-size="14.00" textLength="16.94" lengthAdjust="spacingAndGlyphs">10</text>
<text x="123.05" y="366.25" font-size="14.00" textLength="16.94" lengthAdjust="spacingAndGlyphs">15</text>
<text x="123.05" y="308.50" font-size="14.00" textLength="16.94" lengthAdjust="spacingAndGlyphs">20</text>
<text x="123.05" y="250.75" font-size="14.00" textLength="16.94" lengthAdjust="spacingAndGlyphs">25</text>
<text x="123.05" y="193.00" font-size="14.00" textLength="16.94" lengthAdjust="spacingAndGlyphs">30</text>
<text x="123.05" y="135.25" font-size="14.00" textLength="16.94" lengthAdjust="spacingAndGlyphs">35</text>
<text x="123.05" y="77.50" font-size="14.00" textLength="16.94" lengthAdjust="spacingAndGlyphs">40</text>
<text x="557.45" y="574.00" font-size="14.00" textLength="70.40" lengthAdjust="spacingAndGlyphs">Frequency</text>
<text x="633.95" y="574.00" font-size="14.00" textLength="39.42" lengthAdjust="spacingAndGlyphs">(MHz)</text>
<text transform="translate(113.00,346.75) rotate(-90)" font-size="14.00" textLength="43.19" lengthAdjust="spacingAndGlyphs">Power</text>
<text transform="translate(113.00,299.65) rotate(-90)" font-size="14.00" textLength="37.77" lengthAdjust="spacingAndGlyphs">(CPU)</text>
<text x="450.35" y="64.20" font-size="16.80" textLength="96.21" lengthAdjust="spacingAndGlyphs">2025-04-18</text>
<text x="552.95" y="64.20" font-size="16.80" textLength="5.17" lengthAdjust="spacingAndGlyphs">-</text>
<text x="563.85" y="64.20" font-size="16.80" textLength="29.23" lengthAdjust="spacingAndGlyphs">Cor</text>
<text x="598.15" y="64.20" font-size="16.80" textLength="30.77" lengthAdjust="spacingAndGlyphs">223</text>
<text x="635.45" y="64.20" font-size="16.80" textLength="4.97" lengthAdjust="spacingAndGlyphs">-</text>
<text x="646.85" y="64.20" font-size="16.80" textLength="64.89" lengthAdjust="spacingAndGlyphs">LWA287</text>
<text x="718.45" y="64.20" font-size="16.80" textLength="5.07" lengthAdjust="spacingAndGlyphs">-</text>
<text x="730.05" y="64.20" font-size="16.80" textLength="23.31" lengthAdjust="spacingAndGlyphs">Pol</text>
<text x="758.55" y="64.20" font-size="16.80" textLength="20.49" lengthAdjust="spacingAndGlyphs">YY</text>
<rect x="899.75" y="79.5" width="173.5" height="66.75" rx="2.8" ry="2.8" fill="#ffffff" fill-opacity="0.8" stroke="#cccccc" stroke-opacity="0.8" stroke-width="1.1"/>
<line x1="903" y1="91.05" x2="932.75" y2="91.05" stroke="#000" stroke-width="2.1"/>
<circle cx="918.5" cy="112.5" r="2.9" fill="#0000ff"/>
<rect x="904.2" y="128.4" width="28.6" height="9.3" fill="#808080" fill-opacity="0.4" stroke="#808080" stroke-opacity="0.4" stroke-width="1.0"/>
<text x="943.35" y="94.80" font-size="14.00" textLength="49.75" lengthAdjust="spacingAndGlyphs">Median</text>
<text x="998.40" y="94.80" font-size="14.00" textLength="66.24" lengthAdjust="spacingAndGlyphs">Spectrum</text>
<text x="943.35" y="115.60" font-size="14.00" textLength="54.68" lengthAdjust="spacingAndGlyphs">Flagged</text>
<text x="1002.90" y="115.60" font-size="14.00" textLength="63.95" lengthAdjust="spacingAndGlyphs">Channels</text>
<text x="943.35" y="136.50" font-size="14.00" textLength="49.75" lengthAdjust="spacingAndGlyphs">Median</text>
<text x="998.40" y="136.50" font-size="14.00" textLength="28.46" lengthAdjust="spacingAndGlyphs">Abs.</text>
<text x="1032.90" y="136.50" font-size="14.00" textLength="29.68" lengthAdjust="spacingAndGlyphs">Dev.</text>
</svg>
</body></html>
